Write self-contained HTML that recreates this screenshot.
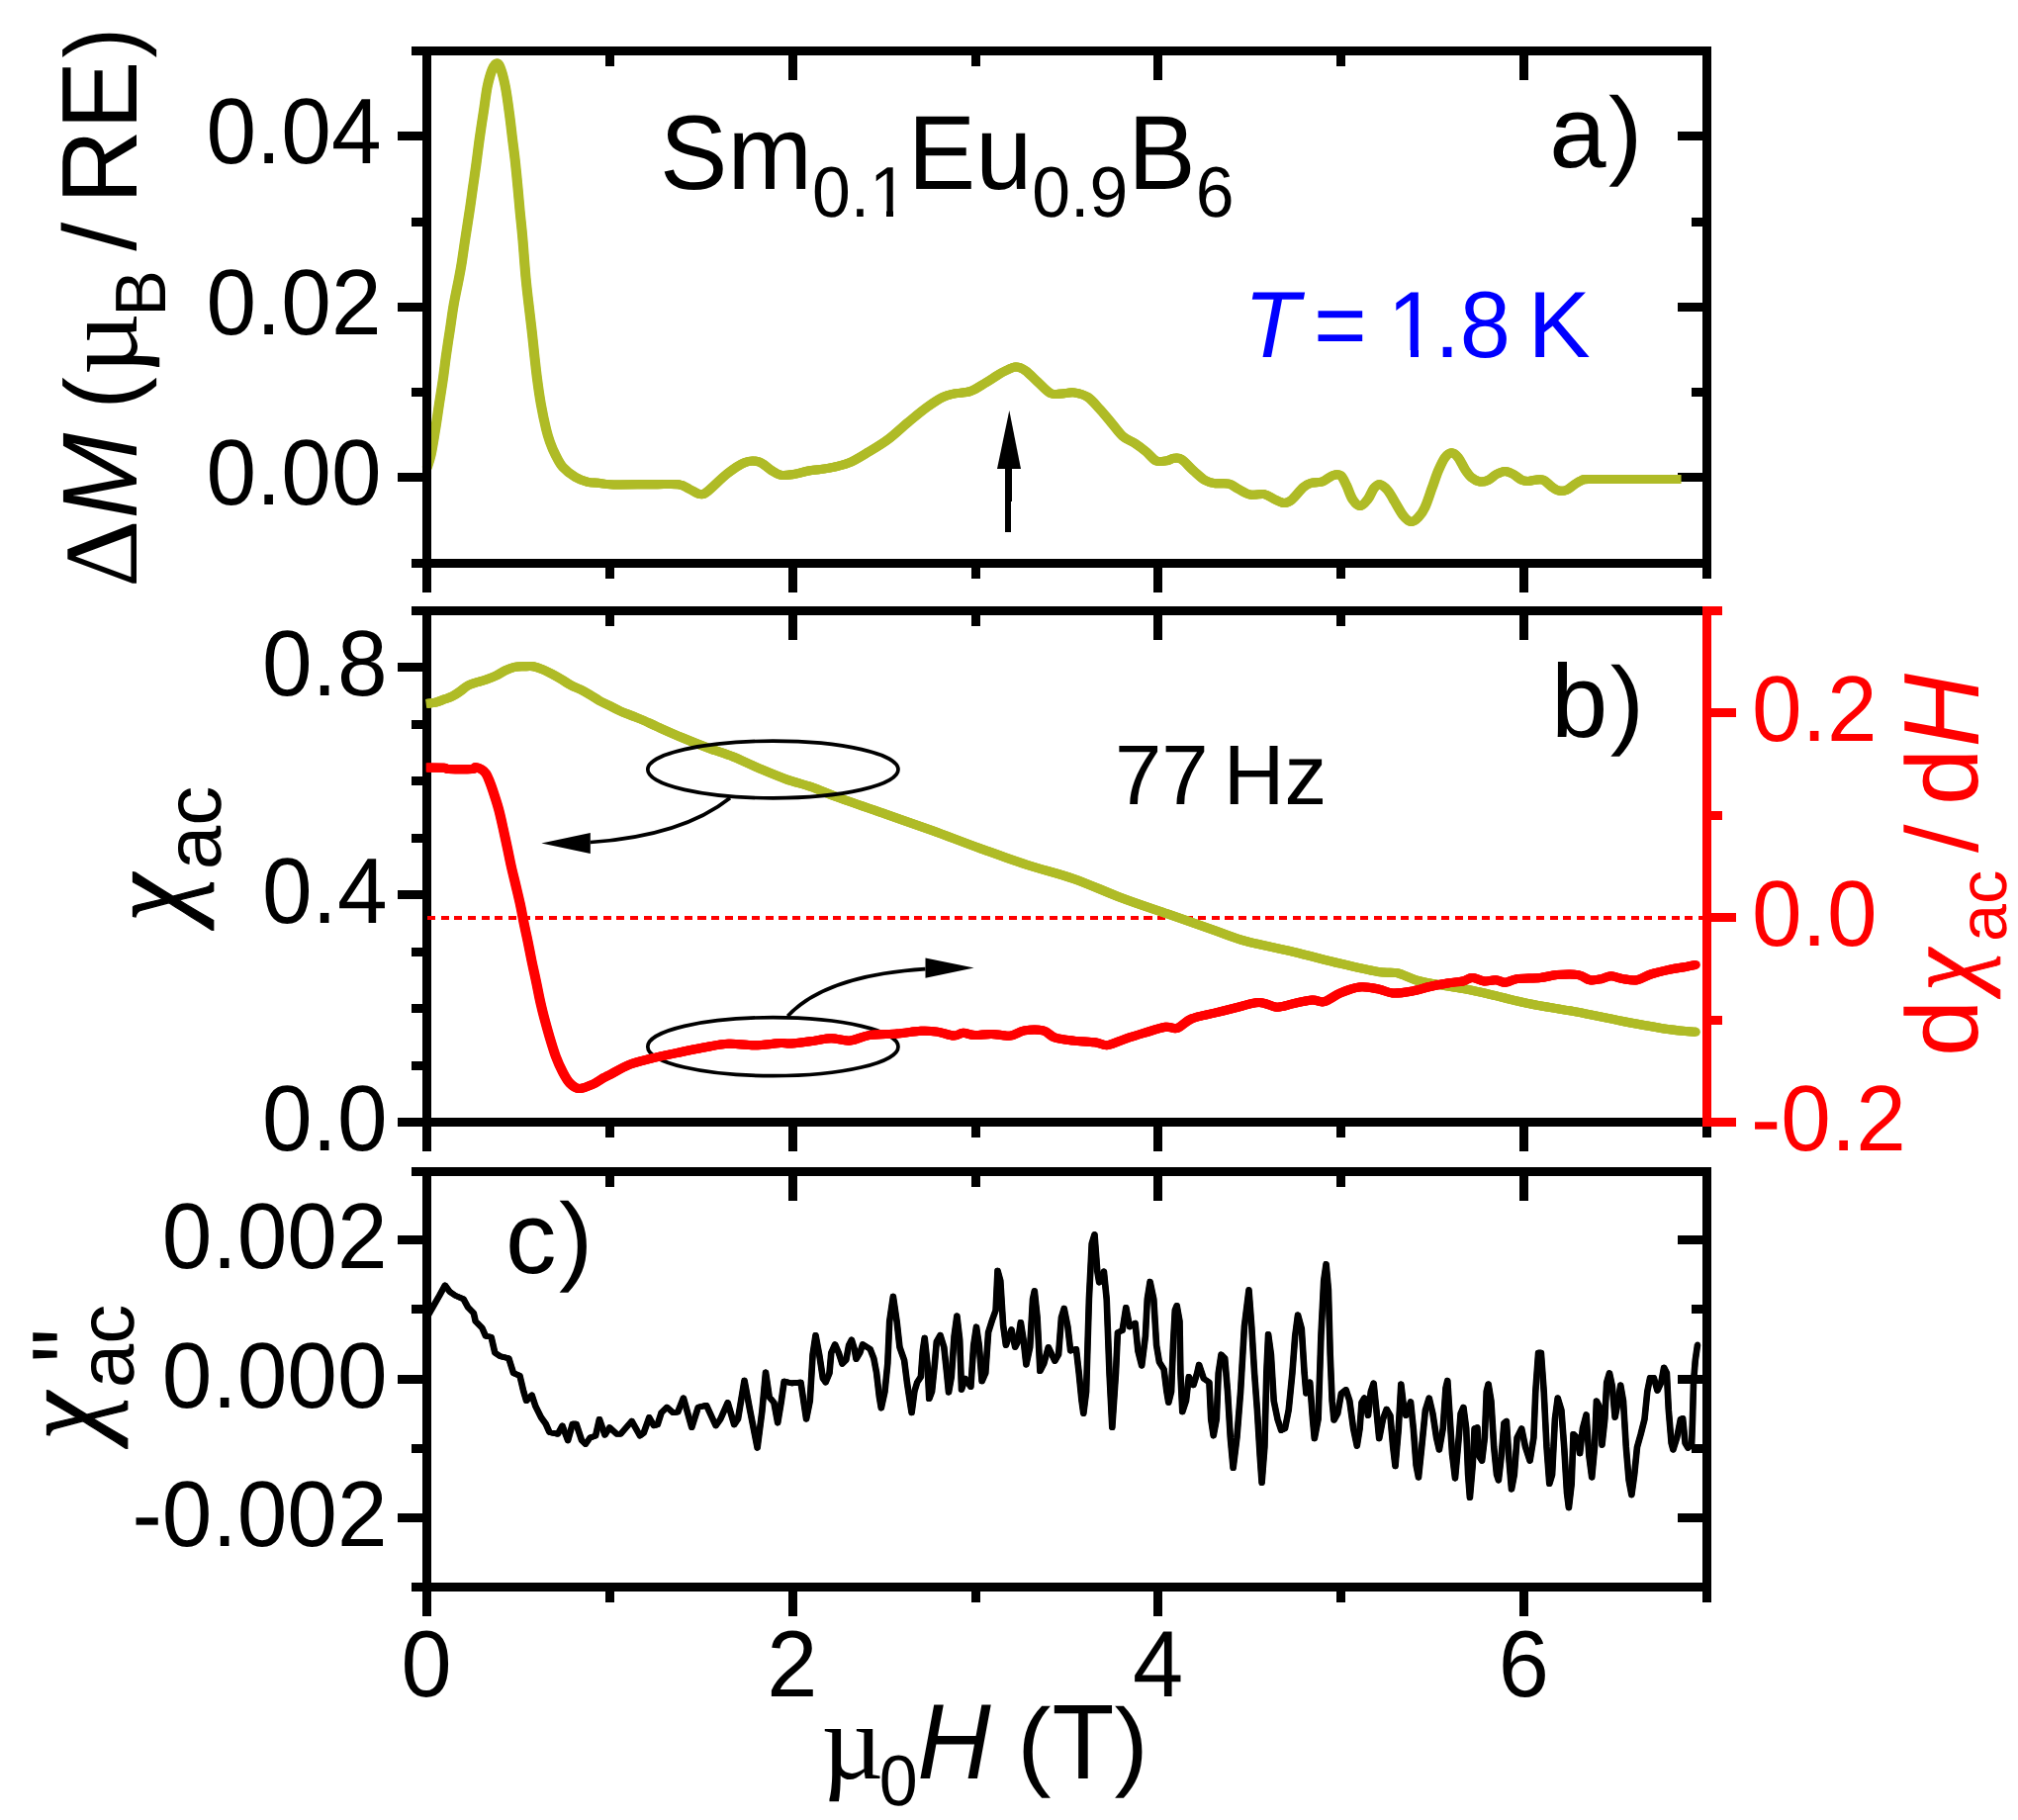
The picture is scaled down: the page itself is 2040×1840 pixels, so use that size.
<!DOCTYPE html>
<html><head><meta charset="utf-8"><title>Figure</title>
<style>html,body{margin:0;padding:0;background:#fff}svg{display:block}</style>
</head><body>
<svg width="2040" height="1840" viewBox="0 0 2040 1840" font-family="Liberation Sans, Arial, Helvetica, sans-serif" shape-rendering="crispEdges" text-rendering="geometricPrecision">
<rect width="2040" height="1840" fill="#fff"/>
<rect x="416" y="47" width="1314" height="9" fill="#000"/>
<rect x="416" y="565" width="1314" height="9" fill="#000"/>
<rect x="427" y="47" width="9" height="527" fill="#000"/>
<rect x="1721" y="47" width="9" height="527" fill="#000"/>
<rect x="427" y="574" width="9" height="25" fill="#000"/>
<rect x="611.857" y="56" width="9" height="11" fill="#000"/>
<rect x="611.857" y="574" width="9" height="11" fill="#000"/>
<rect x="796.714" y="56" width="9" height="25" fill="#000"/>
<rect x="796.714" y="574" width="9" height="25" fill="#000"/>
<rect x="981.571" y="56" width="9" height="11" fill="#000"/>
<rect x="981.571" y="574" width="9" height="11" fill="#000"/>
<rect x="1166.43" y="56" width="9" height="25" fill="#000"/>
<rect x="1166.43" y="574" width="9" height="25" fill="#000"/>
<rect x="1351.29" y="56" width="9" height="11" fill="#000"/>
<rect x="1351.29" y="574" width="9" height="11" fill="#000"/>
<rect x="1536.14" y="56" width="9" height="25" fill="#000"/>
<rect x="1536.14" y="574" width="9" height="25" fill="#000"/>
<rect x="1721" y="574" width="9" height="11" fill="#000"/>
<rect x="402" y="478" width="25" height="9" fill="#000"/>
<rect x="1696" y="478" width="25" height="9" fill="#000"/>
<rect x="402" y="306" width="25" height="9" fill="#000"/>
<rect x="1696" y="306" width="25" height="9" fill="#000"/>
<rect x="402" y="133" width="25" height="9" fill="#000"/>
<rect x="1696" y="133" width="25" height="9" fill="#000"/>
<rect x="416" y="392" width="11" height="9" fill="#000"/>
<rect x="1710" y="392" width="11" height="9" fill="#000"/>
<rect x="416" y="220" width="11" height="9" fill="#000"/>
<rect x="1710" y="220" width="11" height="9" fill="#000"/>
<g fill="none" stroke="#afbb26" stroke-width="9" stroke-linejoin="round" stroke-linecap="butt" shape-rendering="auto">
<path d="M431.5,473.5 C432.2,471.2 434.3,466.1 435.7,459.6 C437.1,453.1 438.7,442.7 440.1,434.3 C441.5,425.9 442.6,417.4 443.9,409.0 C445.2,400.6 446.6,392.1 447.8,383.7 C449.0,375.3 449.9,366.9 451.1,358.5 C452.3,350.1 453.6,341.6 454.9,333.2 C456.2,324.8 457.2,316.3 458.7,307.9 C460.2,299.5 462.3,289.8 463.7,282.6 C465.1,275.4 465.8,272.0 466.9,264.8 C468.0,257.6 469.3,248.0 470.6,239.6 C471.9,231.2 473.2,222.7 474.5,214.3 C475.8,205.9 476.9,197.4 478.1,189.0 C479.3,180.6 480.6,172.1 481.7,163.7 C482.8,155.3 483.8,146.9 485.0,138.5 C486.2,130.1 487.5,121.6 488.8,113.2 C490.1,104.8 491.2,95.0 492.6,87.9 C494.1,80.8 495.9,74.5 497.5,70.5 C499.1,66.5 501.0,64.0 502.5,64.0 C504.0,64.0 505.1,66.5 506.5,70.5 C507.9,74.5 509.5,80.8 510.9,87.9 C512.3,95.0 513.6,104.8 514.7,113.2 C515.9,121.6 516.8,130.1 517.8,138.5 C518.8,146.9 520.0,155.3 520.9,163.7 C521.8,172.1 522.6,180.6 523.4,189.0 C524.2,197.4 524.9,205.9 525.7,214.3 C526.5,222.7 527.5,231.2 528.2,239.6 C529.0,248.0 529.6,257.6 530.2,264.8 C530.8,272.0 531.0,275.4 531.7,282.6 C532.4,289.8 533.5,299.5 534.5,307.9 C535.5,316.3 536.5,324.8 537.5,333.2 C538.5,341.6 539.3,350.1 540.2,358.5 C541.1,366.9 542.0,375.3 543.1,383.7 C544.2,392.1 545.4,400.6 546.9,409.0 C548.4,417.4 550.7,428.0 552.2,434.3 C553.7,440.6 554.5,442.7 556.0,446.9 C557.5,451.1 559.2,455.4 561.4,459.6 C563.6,463.8 565.6,468.4 569.0,472.2 C572.4,476.0 577.5,479.8 581.7,482.3 C585.9,484.8 590.5,486.4 594.3,487.4 C598.1,488.4 600.2,487.9 604.6,488.3 C609.0,488.7 611.2,489.7 620.4,489.9 C629.6,490.1 649.1,489.7 660.0,489.7 C670.9,489.7 679.6,488.9 685.8,489.7 C692.0,490.5 693.4,492.9 697.0,494.5 C700.6,496.1 704.5,499.2 707.6,499.6 C710.7,500.0 710.9,500.1 715.5,496.6 C720.1,493.1 729.0,483.7 735.3,478.8 C741.6,473.9 747.9,469.5 753.2,467.5 C758.5,465.5 762.7,465.7 767.0,466.9 C771.3,468.1 775.3,472.6 778.9,474.8 C782.5,477.0 785.2,479.3 788.8,480.1 C792.4,480.9 795.7,480.4 800.7,479.7 C805.7,479.0 812.3,476.9 818.6,475.8 C824.9,474.7 831.8,474.5 838.4,473.2 C845.0,471.9 851.6,470.6 858.2,467.9 C864.8,465.2 871.4,460.9 878.0,456.9 C884.6,452.9 891.3,449.1 897.9,444.1 C904.5,439.2 911.1,432.6 917.7,427.2 C924.3,421.8 931.5,415.7 937.5,411.4 C943.5,407.1 948.8,403.6 953.4,401.4 C958.0,399.1 960.6,398.9 965.2,397.9 C969.8,396.9 975.8,397.4 981.1,395.5 C986.4,393.6 991.7,389.7 997.0,386.6 C1002.3,383.5 1007.8,379.3 1012.8,376.7 C1017.8,374.1 1022.7,371.4 1026.7,371.1 C1030.7,370.8 1033.0,372.3 1036.6,374.7 C1040.2,377.1 1044.3,381.8 1048.5,385.6 C1052.7,389.4 1057.6,395.4 1061.8,397.5 C1066.0,399.6 1069.7,398.0 1073.7,397.9 C1077.7,397.8 1081.3,396.3 1085.6,396.9 C1089.9,397.5 1095.2,398.7 1099.5,401.4 C1103.8,404.1 1107.4,409.0 1111.4,413.3 C1115.4,417.6 1119.3,422.6 1123.3,427.2 C1127.2,431.8 1131.1,437.6 1135.1,441.1 C1139.0,444.6 1143.0,445.4 1147.0,448.0 C1151.0,450.6 1155.3,453.9 1158.9,456.9 C1162.5,459.9 1165.5,464.4 1168.8,465.9 C1172.1,467.4 1175.8,466.3 1178.8,465.9 C1181.8,465.5 1184.1,463.5 1186.7,463.3 C1189.3,463.1 1191.3,462.4 1194.6,464.5 C1197.9,466.6 1202.5,472.3 1206.5,475.8 C1210.5,479.3 1214.8,483.6 1218.4,485.7 C1222.0,487.8 1224.3,488.1 1228.3,488.7 C1232.3,489.3 1238.2,488.1 1242.2,489.1 C1246.2,490.1 1248.5,492.8 1252.1,494.6 C1255.7,496.5 1259.7,499.4 1264.0,500.2 C1268.3,501.0 1273.9,498.9 1277.9,499.6 C1281.9,500.3 1284.5,503.0 1287.8,504.5 C1291.1,506.0 1294.7,508.3 1297.7,508.5 C1300.7,508.7 1302.3,508.1 1305.6,505.5 C1308.9,502.9 1314.2,495.5 1317.5,492.6 C1320.8,489.7 1322.1,489.3 1325.4,488.3 C1328.7,487.3 1333.7,488.0 1337.3,486.7 C1340.9,485.4 1344.2,481.7 1347.2,480.7 C1350.2,479.7 1352.9,479.0 1355.2,480.7 C1357.5,482.4 1359.1,486.6 1361.1,490.6 C1363.1,494.6 1364.8,501.0 1367.1,504.5 C1369.4,508.0 1372.4,511.5 1375.0,511.5 C1377.6,511.5 1380.6,507.5 1382.9,504.5 C1385.2,501.5 1386.9,496.1 1388.9,493.6 C1390.9,491.1 1392.5,489.4 1394.8,489.7 C1397.1,490.0 1400.0,492.5 1402.7,495.6 C1405.4,498.7 1408.1,504.2 1410.7,508.5 C1413.3,512.8 1416.0,518.2 1418.6,521.4 C1421.2,524.6 1424.0,527.2 1426.5,527.5 C1429.0,527.8 1431.4,525.6 1433.7,523.2 C1436.0,520.8 1438.2,517.9 1440.4,513.1 C1442.7,508.3 1445.0,500.8 1447.2,494.6 C1449.5,488.4 1451.7,481.3 1453.9,476.0 C1456.2,470.7 1458.5,465.6 1460.7,462.6 C1463.0,459.6 1465.2,457.8 1467.4,457.8 C1469.6,457.8 1471.8,459.8 1474.1,462.6 C1476.3,465.4 1478.7,471.0 1480.9,474.4 C1483.2,477.8 1485.1,480.7 1487.6,482.8 C1490.1,484.9 1493.2,486.6 1496.0,487.0 C1498.8,487.4 1501.7,486.6 1504.5,485.3 C1507.3,484.0 1510.1,480.9 1512.9,479.4 C1515.7,477.9 1518.5,476.4 1521.3,476.4 C1524.1,476.4 1526.9,477.9 1529.7,479.4 C1532.5,480.9 1535.7,484.1 1538.2,485.3 C1540.7,486.5 1542.7,486.5 1544.9,486.5 C1547.1,486.5 1549.1,485.5 1551.6,485.3 C1554.1,485.1 1557.3,484.2 1560.1,485.3 C1562.9,486.4 1566.0,490.2 1568.5,492.0 C1571.0,493.8 1572.7,495.3 1575.2,495.9 C1577.7,496.5 1580.9,496.5 1583.7,495.4 C1586.5,494.3 1589.6,491.1 1592.1,489.5 C1594.6,487.9 1596.5,486.6 1598.8,485.8 C1601.0,485.0 1597.1,484.7 1605.6,484.5 C1614.1,484.3 1634.4,484.5 1650.0,484.5 C1665.6,484.5 1690.8,484.5 1699.0,484.5"/>
<path transform="translate(-0.55,0)" d="M431.5,473.5 C432.2,471.2 434.3,466.1 435.7,459.6 C437.1,453.1 438.7,442.7 440.1,434.3 C441.5,425.9 442.6,417.4 443.9,409.0 C445.2,400.6 446.6,392.1 447.8,383.7 C449.0,375.3 449.9,366.9 451.1,358.5 C452.3,350.1 453.6,341.6 454.9,333.2 C456.2,324.8 457.2,316.3 458.7,307.9 C460.2,299.5 462.3,289.8 463.7,282.6 C465.1,275.4 465.8,272.0 466.9,264.8 C468.0,257.6 469.3,248.0 470.6,239.6 C471.9,231.2 473.2,222.7 474.5,214.3 C475.8,205.9 476.9,197.4 478.1,189.0 C479.3,180.6 480.6,172.1 481.7,163.7 C482.8,155.3 483.8,146.9 485.0,138.5 C486.2,130.1 487.5,121.6 488.8,113.2 C490.1,104.8 491.2,95.0 492.6,87.9 C494.1,80.8 495.9,74.5 497.5,70.5 C499.1,66.5 501.0,64.0 502.5,64.0 C504.0,64.0 505.1,66.5 506.5,70.5 C507.9,74.5 509.5,80.8 510.9,87.9 C512.3,95.0 513.6,104.8 514.7,113.2 C515.9,121.6 516.8,130.1 517.8,138.5 C518.8,146.9 520.0,155.3 520.9,163.7 C521.8,172.1 522.6,180.6 523.4,189.0 C524.2,197.4 524.9,205.9 525.7,214.3 C526.5,222.7 527.5,231.2 528.2,239.6 C529.0,248.0 529.6,257.6 530.2,264.8 C530.8,272.0 531.0,275.4 531.7,282.6 C532.4,289.8 533.5,299.5 534.5,307.9 C535.5,316.3 536.5,324.8 537.5,333.2 C538.5,341.6 539.3,350.1 540.2,358.5 C541.1,366.9 542.0,375.3 543.1,383.7 C544.2,392.1 545.4,400.6 546.9,409.0 C548.4,417.4 550.7,428.0 552.2,434.3 C553.7,440.6 554.5,442.7 556.0,446.9 C557.5,451.1 559.2,455.4 561.4,459.6 C563.6,463.8 565.6,468.4 569.0,472.2 C572.4,476.0 577.5,479.8 581.7,482.3 C585.9,484.8 590.5,486.4 594.3,487.4 C598.1,488.4 600.2,487.9 604.6,488.3 C609.0,488.7 611.2,489.7 620.4,489.9 C629.6,490.1 649.1,489.7 660.0,489.7 C670.9,489.7 679.6,488.9 685.8,489.7 C692.0,490.5 693.4,492.9 697.0,494.5 C700.6,496.1 704.5,499.2 707.6,499.6 C710.7,500.0 710.9,500.1 715.5,496.6 C720.1,493.1 729.0,483.7 735.3,478.8 C741.6,473.9 747.9,469.5 753.2,467.5 C758.5,465.5 762.7,465.7 767.0,466.9 C771.3,468.1 775.3,472.6 778.9,474.8 C782.5,477.0 785.2,479.3 788.8,480.1 C792.4,480.9 795.7,480.4 800.7,479.7 C805.7,479.0 812.3,476.9 818.6,475.8 C824.9,474.7 831.8,474.5 838.4,473.2 C845.0,471.9 851.6,470.6 858.2,467.9 C864.8,465.2 871.4,460.9 878.0,456.9 C884.6,452.9 891.3,449.1 897.9,444.1 C904.5,439.2 911.1,432.6 917.7,427.2 C924.3,421.8 931.5,415.7 937.5,411.4 C943.5,407.1 948.8,403.6 953.4,401.4 C958.0,399.1 960.6,398.9 965.2,397.9 C969.8,396.9 975.8,397.4 981.1,395.5 C986.4,393.6 991.7,389.7 997.0,386.6 C1002.3,383.5 1007.8,379.3 1012.8,376.7 C1017.8,374.1 1022.7,371.4 1026.7,371.1 C1030.7,370.8 1033.0,372.3 1036.6,374.7 C1040.2,377.1 1044.3,381.8 1048.5,385.6 C1052.7,389.4 1057.6,395.4 1061.8,397.5 C1066.0,399.6 1069.7,398.0 1073.7,397.9 C1077.7,397.8 1081.3,396.3 1085.6,396.9 C1089.9,397.5 1095.2,398.7 1099.5,401.4 C1103.8,404.1 1107.4,409.0 1111.4,413.3 C1115.4,417.6 1119.3,422.6 1123.3,427.2 C1127.2,431.8 1131.1,437.6 1135.1,441.1 C1139.0,444.6 1143.0,445.4 1147.0,448.0 C1151.0,450.6 1155.3,453.9 1158.9,456.9 C1162.5,459.9 1165.5,464.4 1168.8,465.9 C1172.1,467.4 1175.8,466.3 1178.8,465.9 C1181.8,465.5 1184.1,463.5 1186.7,463.3 C1189.3,463.1 1191.3,462.4 1194.6,464.5 C1197.9,466.6 1202.5,472.3 1206.5,475.8 C1210.5,479.3 1214.8,483.6 1218.4,485.7 C1222.0,487.8 1224.3,488.1 1228.3,488.7 C1232.3,489.3 1238.2,488.1 1242.2,489.1 C1246.2,490.1 1248.5,492.8 1252.1,494.6 C1255.7,496.5 1259.7,499.4 1264.0,500.2 C1268.3,501.0 1273.9,498.9 1277.9,499.6 C1281.9,500.3 1284.5,503.0 1287.8,504.5 C1291.1,506.0 1294.7,508.3 1297.7,508.5 C1300.7,508.7 1302.3,508.1 1305.6,505.5 C1308.9,502.9 1314.2,495.5 1317.5,492.6 C1320.8,489.7 1322.1,489.3 1325.4,488.3 C1328.7,487.3 1333.7,488.0 1337.3,486.7 C1340.9,485.4 1344.2,481.7 1347.2,480.7 C1350.2,479.7 1352.9,479.0 1355.2,480.7 C1357.5,482.4 1359.1,486.6 1361.1,490.6 C1363.1,494.6 1364.8,501.0 1367.1,504.5 C1369.4,508.0 1372.4,511.5 1375.0,511.5 C1377.6,511.5 1380.6,507.5 1382.9,504.5 C1385.2,501.5 1386.9,496.1 1388.9,493.6 C1390.9,491.1 1392.5,489.4 1394.8,489.7 C1397.1,490.0 1400.0,492.5 1402.7,495.6 C1405.4,498.7 1408.1,504.2 1410.7,508.5 C1413.3,512.8 1416.0,518.2 1418.6,521.4 C1421.2,524.6 1424.0,527.2 1426.5,527.5 C1429.0,527.8 1431.4,525.6 1433.7,523.2 C1436.0,520.8 1438.2,517.9 1440.4,513.1 C1442.7,508.3 1445.0,500.8 1447.2,494.6 C1449.5,488.4 1451.7,481.3 1453.9,476.0 C1456.2,470.7 1458.5,465.6 1460.7,462.6 C1463.0,459.6 1465.2,457.8 1467.4,457.8 C1469.6,457.8 1471.8,459.8 1474.1,462.6 C1476.3,465.4 1478.7,471.0 1480.9,474.4 C1483.2,477.8 1485.1,480.7 1487.6,482.8 C1490.1,484.9 1493.2,486.6 1496.0,487.0 C1498.8,487.4 1501.7,486.6 1504.5,485.3 C1507.3,484.0 1510.1,480.9 1512.9,479.4 C1515.7,477.9 1518.5,476.4 1521.3,476.4 C1524.1,476.4 1526.9,477.9 1529.7,479.4 C1532.5,480.9 1535.7,484.1 1538.2,485.3 C1540.7,486.5 1542.7,486.5 1544.9,486.5 C1547.1,486.5 1549.1,485.5 1551.6,485.3 C1554.1,485.1 1557.3,484.2 1560.1,485.3 C1562.9,486.4 1566.0,490.2 1568.5,492.0 C1571.0,493.8 1572.7,495.3 1575.2,495.9 C1577.7,496.5 1580.9,496.5 1583.7,495.4 C1586.5,494.3 1589.6,491.1 1592.1,489.5 C1594.6,487.9 1596.5,486.6 1598.8,485.8 C1601.0,485.0 1597.1,484.7 1605.6,484.5 C1614.1,484.3 1634.4,484.5 1650.0,484.5 C1665.6,484.5 1690.8,484.5 1699.0,484.5"/>
<path transform="translate(0.55,0)" d="M431.5,473.5 C432.2,471.2 434.3,466.1 435.7,459.6 C437.1,453.1 438.7,442.7 440.1,434.3 C441.5,425.9 442.6,417.4 443.9,409.0 C445.2,400.6 446.6,392.1 447.8,383.7 C449.0,375.3 449.9,366.9 451.1,358.5 C452.3,350.1 453.6,341.6 454.9,333.2 C456.2,324.8 457.2,316.3 458.7,307.9 C460.2,299.5 462.3,289.8 463.7,282.6 C465.1,275.4 465.8,272.0 466.9,264.8 C468.0,257.6 469.3,248.0 470.6,239.6 C471.9,231.2 473.2,222.7 474.5,214.3 C475.8,205.9 476.9,197.4 478.1,189.0 C479.3,180.6 480.6,172.1 481.7,163.7 C482.8,155.3 483.8,146.9 485.0,138.5 C486.2,130.1 487.5,121.6 488.8,113.2 C490.1,104.8 491.2,95.0 492.6,87.9 C494.1,80.8 495.9,74.5 497.5,70.5 C499.1,66.5 501.0,64.0 502.5,64.0 C504.0,64.0 505.1,66.5 506.5,70.5 C507.9,74.5 509.5,80.8 510.9,87.9 C512.3,95.0 513.6,104.8 514.7,113.2 C515.9,121.6 516.8,130.1 517.8,138.5 C518.8,146.9 520.0,155.3 520.9,163.7 C521.8,172.1 522.6,180.6 523.4,189.0 C524.2,197.4 524.9,205.9 525.7,214.3 C526.5,222.7 527.5,231.2 528.2,239.6 C529.0,248.0 529.6,257.6 530.2,264.8 C530.8,272.0 531.0,275.4 531.7,282.6 C532.4,289.8 533.5,299.5 534.5,307.9 C535.5,316.3 536.5,324.8 537.5,333.2 C538.5,341.6 539.3,350.1 540.2,358.5 C541.1,366.9 542.0,375.3 543.1,383.7 C544.2,392.1 545.4,400.6 546.9,409.0 C548.4,417.4 550.7,428.0 552.2,434.3 C553.7,440.6 554.5,442.7 556.0,446.9 C557.5,451.1 559.2,455.4 561.4,459.6 C563.6,463.8 565.6,468.4 569.0,472.2 C572.4,476.0 577.5,479.8 581.7,482.3 C585.9,484.8 590.5,486.4 594.3,487.4 C598.1,488.4 600.2,487.9 604.6,488.3 C609.0,488.7 611.2,489.7 620.4,489.9 C629.6,490.1 649.1,489.7 660.0,489.7 C670.9,489.7 679.6,488.9 685.8,489.7 C692.0,490.5 693.4,492.9 697.0,494.5 C700.6,496.1 704.5,499.2 707.6,499.6 C710.7,500.0 710.9,500.1 715.5,496.6 C720.1,493.1 729.0,483.7 735.3,478.8 C741.6,473.9 747.9,469.5 753.2,467.5 C758.5,465.5 762.7,465.7 767.0,466.9 C771.3,468.1 775.3,472.6 778.9,474.8 C782.5,477.0 785.2,479.3 788.8,480.1 C792.4,480.9 795.7,480.4 800.7,479.7 C805.7,479.0 812.3,476.9 818.6,475.8 C824.9,474.7 831.8,474.5 838.4,473.2 C845.0,471.9 851.6,470.6 858.2,467.9 C864.8,465.2 871.4,460.9 878.0,456.9 C884.6,452.9 891.3,449.1 897.9,444.1 C904.5,439.2 911.1,432.6 917.7,427.2 C924.3,421.8 931.5,415.7 937.5,411.4 C943.5,407.1 948.8,403.6 953.4,401.4 C958.0,399.1 960.6,398.9 965.2,397.9 C969.8,396.9 975.8,397.4 981.1,395.5 C986.4,393.6 991.7,389.7 997.0,386.6 C1002.3,383.5 1007.8,379.3 1012.8,376.7 C1017.8,374.1 1022.7,371.4 1026.7,371.1 C1030.7,370.8 1033.0,372.3 1036.6,374.7 C1040.2,377.1 1044.3,381.8 1048.5,385.6 C1052.7,389.4 1057.6,395.4 1061.8,397.5 C1066.0,399.6 1069.7,398.0 1073.7,397.9 C1077.7,397.8 1081.3,396.3 1085.6,396.9 C1089.9,397.5 1095.2,398.7 1099.5,401.4 C1103.8,404.1 1107.4,409.0 1111.4,413.3 C1115.4,417.6 1119.3,422.6 1123.3,427.2 C1127.2,431.8 1131.1,437.6 1135.1,441.1 C1139.0,444.6 1143.0,445.4 1147.0,448.0 C1151.0,450.6 1155.3,453.9 1158.9,456.9 C1162.5,459.9 1165.5,464.4 1168.8,465.9 C1172.1,467.4 1175.8,466.3 1178.8,465.9 C1181.8,465.5 1184.1,463.5 1186.7,463.3 C1189.3,463.1 1191.3,462.4 1194.6,464.5 C1197.9,466.6 1202.5,472.3 1206.5,475.8 C1210.5,479.3 1214.8,483.6 1218.4,485.7 C1222.0,487.8 1224.3,488.1 1228.3,488.7 C1232.3,489.3 1238.2,488.1 1242.2,489.1 C1246.2,490.1 1248.5,492.8 1252.1,494.6 C1255.7,496.5 1259.7,499.4 1264.0,500.2 C1268.3,501.0 1273.9,498.9 1277.9,499.6 C1281.9,500.3 1284.5,503.0 1287.8,504.5 C1291.1,506.0 1294.7,508.3 1297.7,508.5 C1300.7,508.7 1302.3,508.1 1305.6,505.5 C1308.9,502.9 1314.2,495.5 1317.5,492.6 C1320.8,489.7 1322.1,489.3 1325.4,488.3 C1328.7,487.3 1333.7,488.0 1337.3,486.7 C1340.9,485.4 1344.2,481.7 1347.2,480.7 C1350.2,479.7 1352.9,479.0 1355.2,480.7 C1357.5,482.4 1359.1,486.6 1361.1,490.6 C1363.1,494.6 1364.8,501.0 1367.1,504.5 C1369.4,508.0 1372.4,511.5 1375.0,511.5 C1377.6,511.5 1380.6,507.5 1382.9,504.5 C1385.2,501.5 1386.9,496.1 1388.9,493.6 C1390.9,491.1 1392.5,489.4 1394.8,489.7 C1397.1,490.0 1400.0,492.5 1402.7,495.6 C1405.4,498.7 1408.1,504.2 1410.7,508.5 C1413.3,512.8 1416.0,518.2 1418.6,521.4 C1421.2,524.6 1424.0,527.2 1426.5,527.5 C1429.0,527.8 1431.4,525.6 1433.7,523.2 C1436.0,520.8 1438.2,517.9 1440.4,513.1 C1442.7,508.3 1445.0,500.8 1447.2,494.6 C1449.5,488.4 1451.7,481.3 1453.9,476.0 C1456.2,470.7 1458.5,465.6 1460.7,462.6 C1463.0,459.6 1465.2,457.8 1467.4,457.8 C1469.6,457.8 1471.8,459.8 1474.1,462.6 C1476.3,465.4 1478.7,471.0 1480.9,474.4 C1483.2,477.8 1485.1,480.7 1487.6,482.8 C1490.1,484.9 1493.2,486.6 1496.0,487.0 C1498.8,487.4 1501.7,486.6 1504.5,485.3 C1507.3,484.0 1510.1,480.9 1512.9,479.4 C1515.7,477.9 1518.5,476.4 1521.3,476.4 C1524.1,476.4 1526.9,477.9 1529.7,479.4 C1532.5,480.9 1535.7,484.1 1538.2,485.3 C1540.7,486.5 1542.7,486.5 1544.9,486.5 C1547.1,486.5 1549.1,485.5 1551.6,485.3 C1554.1,485.1 1557.3,484.2 1560.1,485.3 C1562.9,486.4 1566.0,490.2 1568.5,492.0 C1571.0,493.8 1572.7,495.3 1575.2,495.9 C1577.7,496.5 1580.9,496.5 1583.7,495.4 C1586.5,494.3 1589.6,491.1 1592.1,489.5 C1594.6,487.9 1596.5,486.6 1598.8,485.8 C1601.0,485.0 1597.1,484.7 1605.6,484.5 C1614.1,484.3 1634.4,484.5 1650.0,484.5 C1665.6,484.5 1690.8,484.5 1699.0,484.5"/>
</g>
<rect x="427" y="47" width="9" height="527" fill="#000"/>
<text transform="translate(385.5,510.1) scale(1,1.035)" font-size="91" text-anchor="end">0.00</text>
<text transform="translate(385.5,337.6) scale(1,1.035)" font-size="91" text-anchor="end">0.02</text>
<text transform="translate(385.5,165.1) scale(1,1.035)" font-size="91" text-anchor="end">0.04</text>
<line x1="1019" y1="538" x2="1019.6" y2="470" stroke="#000" stroke-width="6.5"/>
<polygon points="1008,474 1032,474 1020.3,415" fill="#000" shape-rendering="auto"/>
<text transform="translate(667,191) scale(0.996,1.035)" font-size="103">Sm<tspan font-size="70" dy="27">0.1</tspan><tspan dy="-27">Eu</tspan><tspan font-size="70" dy="27">0.9</tspan><tspan dy="-27">B</tspan><tspan font-size="70" dy="27">6</tspan></text>
<text transform="translate(1257.5,361) scale(1,1.035)" font-size="92" fill="#0000ff" font-style="italic">T</text>
<text transform="translate(1328,361) scale(1,1.035)" font-size="92" fill="#0000ff">=</text>
<text transform="translate(1402.5,361) scale(1,1.035)" font-size="92" fill="#0000ff">1</text>
<text transform="translate(1450.2,361) scale(1,1.035)" font-size="92" fill="#0000ff">.8</text>
<rect x="1408.94" y="353.6" width="16.698" height="8.4" fill="#fff"/>
<rect x="1433.76" y="353.6" width="16.56" height="8.4" fill="#fff"/>
<text transform="translate(1544.5,361) scale(1.03,1.035)" font-size="92" fill="#0000ff">K</text>
<rect x="883.5" y="213.2" width="12.1" height="6.8" fill="#fff"/>
<rect x="902.7" y="213.2" width="12.5" height="6.8" fill="#fff"/>
<text transform="translate(1566.3,169.4) scale(1,1)" font-size="103">a</text>
<text transform="translate(1626,168.4) scale(1,0.97)" font-size="103">)</text>
<rect x="416" y="613" width="1314" height="9" fill="#000"/>
<rect x="416" y="1130" width="1314" height="9" fill="#000"/>
<rect x="427" y="613" width="9" height="526" fill="#000"/>
<rect x="1721" y="613" width="9" height="526" fill="#000"/>
<rect x="427" y="1139" width="9" height="25" fill="#000"/>
<rect x="611.857" y="622" width="9" height="11" fill="#000"/>
<rect x="611.857" y="1139" width="9" height="11" fill="#000"/>
<rect x="796.714" y="622" width="9" height="25" fill="#000"/>
<rect x="796.714" y="1139" width="9" height="25" fill="#000"/>
<rect x="981.571" y="622" width="9" height="11" fill="#000"/>
<rect x="981.571" y="1139" width="9" height="11" fill="#000"/>
<rect x="1166.43" y="622" width="9" height="25" fill="#000"/>
<rect x="1166.43" y="1139" width="9" height="25" fill="#000"/>
<rect x="1351.29" y="622" width="9" height="11" fill="#000"/>
<rect x="1351.29" y="1139" width="9" height="11" fill="#000"/>
<rect x="1536.14" y="622" width="9" height="25" fill="#000"/>
<rect x="1536.14" y="1139" width="9" height="25" fill="#000"/>
<rect x="1721" y="1139" width="9" height="11" fill="#000"/>
<rect x="402" y="1130" width="25" height="9" fill="#000"/>
<rect x="402" y="900" width="25" height="9" fill="#000"/>
<rect x="402" y="670" width="25" height="9" fill="#000"/>
<rect x="416" y="1072.5" width="11" height="9" fill="#000"/>
<rect x="416" y="1015" width="11" height="9" fill="#000"/>
<rect x="416" y="957.5" width="11" height="9" fill="#000"/>
<rect x="416" y="842.5" width="11" height="9" fill="#000"/>
<rect x="416" y="785" width="11" height="9" fill="#000"/>
<rect x="416" y="727.5" width="11" height="9" fill="#000"/>
<text transform="translate(391.5,1162.5) scale(1,1.035)" font-size="91" text-anchor="end">0.0</text>
<text transform="translate(391.5,932.5) scale(1,1.035)" font-size="91" text-anchor="end">0.4</text>
<text transform="translate(391.5,702.5) scale(1,1.035)" font-size="91" text-anchor="end">0.8</text>
<line x1="431.9" y1="928" x2="1721" y2="928" stroke="#ff0000" stroke-width="4.3" stroke-dasharray="8.2 5.47"/>
<g fill="none" stroke="#afbb26" stroke-width="9" stroke-linejoin="round" stroke-linecap="butt" shape-rendering="auto">
<path d="M431.2,711.4 C432.8,711.2 437.6,710.8 440.5,710.1 C443.4,709.4 446.0,708.1 448.8,707.1 C451.6,706.1 454.3,705.5 457.1,704.1 C459.9,702.7 462.8,700.6 465.4,698.8 C468.0,697.0 469.8,694.9 472.6,693.4 C475.4,691.9 478.9,690.8 482.1,689.8 C485.3,688.8 488.4,688.2 491.6,687.1 C494.8,686.0 497.9,684.8 501.1,683.3 C504.3,681.8 507.4,679.4 510.6,677.9 C513.8,676.4 516.9,675.1 520.1,674.4 C523.3,673.7 526.5,673.9 529.7,673.8 C532.9,673.7 536.0,673.3 539.2,673.8 C542.4,674.3 545.5,675.5 548.7,676.8 C551.9,678.1 555.0,679.8 558.2,681.5 C561.4,683.2 564.5,685.0 567.7,686.9 C570.9,688.8 574.0,691.1 577.2,692.8 C580.4,694.5 583.5,695.4 586.7,697.0 C589.9,698.6 593.1,700.4 596.3,702.3 C599.5,704.2 602.6,706.5 605.8,708.3 C609.0,710.1 611.7,711.2 615.3,713.0 C618.9,714.8 623.2,717.2 627.2,719.0 C631.2,720.8 635.1,722.1 639.1,723.7 C643.1,725.3 646.7,726.6 651.0,728.5 C655.3,730.4 658.7,732.2 665.0,735.0 C671.3,737.8 680.6,742.0 689.0,745.5 C697.4,749.0 706.6,752.7 715.4,756.0 C724.2,759.3 732.9,761.8 741.7,765.3 C750.5,768.8 759.3,773.4 768.1,777.1 C776.9,780.8 785.9,784.6 794.5,787.7 C803.1,790.8 811.1,792.5 820.0,795.6 C828.9,798.7 835.1,801.8 847.6,806.4 C860.1,811.0 879.2,817.5 895.1,823.0 C911.0,828.5 926.8,834.0 942.7,839.7 C958.6,845.5 974.4,851.8 990.3,857.5 C1006.2,863.2 1022.1,869.1 1037.9,874.2 C1053.8,879.4 1069.6,882.9 1085.4,888.4 C1101.2,893.9 1117.1,901.5 1133.0,907.5 C1148.9,913.5 1164.7,918.6 1180.6,924.1 C1196.5,929.6 1215.0,936.2 1228.2,940.8 C1241.4,945.4 1246.8,948.0 1260.0,951.6 C1273.2,955.2 1291.8,958.5 1307.6,962.3 C1323.4,966.1 1340.8,970.8 1355.1,974.2 C1369.4,977.6 1383.7,980.9 1393.2,982.5 C1402.7,984.1 1405.9,982.3 1412.2,983.7 C1418.5,985.1 1424.2,988.8 1431.3,990.8 C1438.4,992.8 1446.4,994.0 1455.1,995.6 C1463.8,997.2 1474.9,998.6 1483.6,1000.3 C1492.3,1002.0 1497.1,1003.2 1507.4,1005.6 C1517.7,1008.0 1531.1,1011.7 1545.4,1014.6 C1559.7,1017.5 1577.1,1019.9 1593.0,1022.9 C1608.9,1025.9 1624.7,1029.5 1640.6,1032.5 C1656.5,1035.5 1675.9,1039.0 1688.2,1040.8 C1700.5,1042.6 1710.0,1042.8 1714.3,1043.2"/>
<path transform="translate(-0.55,0)" d="M431.2,711.4 C432.8,711.2 437.6,710.8 440.5,710.1 C443.4,709.4 446.0,708.1 448.8,707.1 C451.6,706.1 454.3,705.5 457.1,704.1 C459.9,702.7 462.8,700.6 465.4,698.8 C468.0,697.0 469.8,694.9 472.6,693.4 C475.4,691.9 478.9,690.8 482.1,689.8 C485.3,688.8 488.4,688.2 491.6,687.1 C494.8,686.0 497.9,684.8 501.1,683.3 C504.3,681.8 507.4,679.4 510.6,677.9 C513.8,676.4 516.9,675.1 520.1,674.4 C523.3,673.7 526.5,673.9 529.7,673.8 C532.9,673.7 536.0,673.3 539.2,673.8 C542.4,674.3 545.5,675.5 548.7,676.8 C551.9,678.1 555.0,679.8 558.2,681.5 C561.4,683.2 564.5,685.0 567.7,686.9 C570.9,688.8 574.0,691.1 577.2,692.8 C580.4,694.5 583.5,695.4 586.7,697.0 C589.9,698.6 593.1,700.4 596.3,702.3 C599.5,704.2 602.6,706.5 605.8,708.3 C609.0,710.1 611.7,711.2 615.3,713.0 C618.9,714.8 623.2,717.2 627.2,719.0 C631.2,720.8 635.1,722.1 639.1,723.7 C643.1,725.3 646.7,726.6 651.0,728.5 C655.3,730.4 658.7,732.2 665.0,735.0 C671.3,737.8 680.6,742.0 689.0,745.5 C697.4,749.0 706.6,752.7 715.4,756.0 C724.2,759.3 732.9,761.8 741.7,765.3 C750.5,768.8 759.3,773.4 768.1,777.1 C776.9,780.8 785.9,784.6 794.5,787.7 C803.1,790.8 811.1,792.5 820.0,795.6 C828.9,798.7 835.1,801.8 847.6,806.4 C860.1,811.0 879.2,817.5 895.1,823.0 C911.0,828.5 926.8,834.0 942.7,839.7 C958.6,845.5 974.4,851.8 990.3,857.5 C1006.2,863.2 1022.1,869.1 1037.9,874.2 C1053.8,879.4 1069.6,882.9 1085.4,888.4 C1101.2,893.9 1117.1,901.5 1133.0,907.5 C1148.9,913.5 1164.7,918.6 1180.6,924.1 C1196.5,929.6 1215.0,936.2 1228.2,940.8 C1241.4,945.4 1246.8,948.0 1260.0,951.6 C1273.2,955.2 1291.8,958.5 1307.6,962.3 C1323.4,966.1 1340.8,970.8 1355.1,974.2 C1369.4,977.6 1383.7,980.9 1393.2,982.5 C1402.7,984.1 1405.9,982.3 1412.2,983.7 C1418.5,985.1 1424.2,988.8 1431.3,990.8 C1438.4,992.8 1446.4,994.0 1455.1,995.6 C1463.8,997.2 1474.9,998.6 1483.6,1000.3 C1492.3,1002.0 1497.1,1003.2 1507.4,1005.6 C1517.7,1008.0 1531.1,1011.7 1545.4,1014.6 C1559.7,1017.5 1577.1,1019.9 1593.0,1022.9 C1608.9,1025.9 1624.7,1029.5 1640.6,1032.5 C1656.5,1035.5 1675.9,1039.0 1688.2,1040.8 C1700.5,1042.6 1710.0,1042.8 1714.3,1043.2"/>
<path transform="translate(0.55,0)" d="M431.2,711.4 C432.8,711.2 437.6,710.8 440.5,710.1 C443.4,709.4 446.0,708.1 448.8,707.1 C451.6,706.1 454.3,705.5 457.1,704.1 C459.9,702.7 462.8,700.6 465.4,698.8 C468.0,697.0 469.8,694.9 472.6,693.4 C475.4,691.9 478.9,690.8 482.1,689.8 C485.3,688.8 488.4,688.2 491.6,687.1 C494.8,686.0 497.9,684.8 501.1,683.3 C504.3,681.8 507.4,679.4 510.6,677.9 C513.8,676.4 516.9,675.1 520.1,674.4 C523.3,673.7 526.5,673.9 529.7,673.8 C532.9,673.7 536.0,673.3 539.2,673.8 C542.4,674.3 545.5,675.5 548.7,676.8 C551.9,678.1 555.0,679.8 558.2,681.5 C561.4,683.2 564.5,685.0 567.7,686.9 C570.9,688.8 574.0,691.1 577.2,692.8 C580.4,694.5 583.5,695.4 586.7,697.0 C589.9,698.6 593.1,700.4 596.3,702.3 C599.5,704.2 602.6,706.5 605.8,708.3 C609.0,710.1 611.7,711.2 615.3,713.0 C618.9,714.8 623.2,717.2 627.2,719.0 C631.2,720.8 635.1,722.1 639.1,723.7 C643.1,725.3 646.7,726.6 651.0,728.5 C655.3,730.4 658.7,732.2 665.0,735.0 C671.3,737.8 680.6,742.0 689.0,745.5 C697.4,749.0 706.6,752.7 715.4,756.0 C724.2,759.3 732.9,761.8 741.7,765.3 C750.5,768.8 759.3,773.4 768.1,777.1 C776.9,780.8 785.9,784.6 794.5,787.7 C803.1,790.8 811.1,792.5 820.0,795.6 C828.9,798.7 835.1,801.8 847.6,806.4 C860.1,811.0 879.2,817.5 895.1,823.0 C911.0,828.5 926.8,834.0 942.7,839.7 C958.6,845.5 974.4,851.8 990.3,857.5 C1006.2,863.2 1022.1,869.1 1037.9,874.2 C1053.8,879.4 1069.6,882.9 1085.4,888.4 C1101.2,893.9 1117.1,901.5 1133.0,907.5 C1148.9,913.5 1164.7,918.6 1180.6,924.1 C1196.5,929.6 1215.0,936.2 1228.2,940.8 C1241.4,945.4 1246.8,948.0 1260.0,951.6 C1273.2,955.2 1291.8,958.5 1307.6,962.3 C1323.4,966.1 1340.8,970.8 1355.1,974.2 C1369.4,977.6 1383.7,980.9 1393.2,982.5 C1402.7,984.1 1405.9,982.3 1412.2,983.7 C1418.5,985.1 1424.2,988.8 1431.3,990.8 C1438.4,992.8 1446.4,994.0 1455.1,995.6 C1463.8,997.2 1474.9,998.6 1483.6,1000.3 C1492.3,1002.0 1497.1,1003.2 1507.4,1005.6 C1517.7,1008.0 1531.1,1011.7 1545.4,1014.6 C1559.7,1017.5 1577.1,1019.9 1593.0,1022.9 C1608.9,1025.9 1624.7,1029.5 1640.6,1032.5 C1656.5,1035.5 1675.9,1039.0 1688.2,1040.8 C1700.5,1042.6 1710.0,1042.8 1714.3,1043.2"/>
</g>
<circle cx="1714.3" cy="1043.2" r="4.5" fill="#afbb26" shape-rendering="auto"/>
<rect x="1721" y="613" width="9" height="526" fill="#ff0000"/>
<rect x="1730" y="716.4" width="25" height="9" fill="#ff0000"/>
<rect x="1730" y="923.2" width="25" height="9" fill="#ff0000"/>
<rect x="1730" y="1130" width="25" height="9" fill="#ff0000"/>
<rect x="1730" y="1026.6" width="11" height="9" fill="#ff0000"/>
<rect x="1730" y="819.8" width="11" height="9" fill="#ff0000"/>
<rect x="1730" y="613" width="11" height="9" fill="#ff0000"/>
<text transform="translate(1771,748.9) scale(1,1.035)" font-size="91" fill="#ff0000">0.2</text>
<text transform="translate(1771,955.7) scale(1,1.035)" font-size="91" fill="#ff0000">0.0</text>
<text transform="translate(1770,1162.5) scale(1,1.035)" font-size="91" fill="#ff0000">-0.2</text>
<rect x="1721" y="1139" width="9" height="11" fill="#000"/>
<g fill="none" stroke="#000" stroke-width="3.7" shape-rendering="auto">
<ellipse cx="781.4" cy="778" rx="126.6" ry="28.8"/>
<ellipse cx="781.4" cy="1058.2" rx="126.6" ry="29.5"/>
<path d="M738,806.7 Q690,845 596.8,851.5"/>
<path d="M796.3,1027.2 Q835,986 935.5,979.7"/>
</g>
<polygon points="547.3,852.6 596.8,842 596.8,863" fill="#000" shape-rendering="auto"/>
<polygon points="984.6,978.4 935.5,968.5 935.5,988.8" fill="#000" shape-rendering="auto"/>
<g fill="none" stroke="#ff0000" stroke-width="9" stroke-linejoin="round" stroke-linecap="butt" shape-rendering="auto">
<path d="M431.2,776.1 C434.1,776.1 445.1,776.1 448.8,776.3 C452.5,776.5 448.8,777.3 453.5,777.5 C458.2,777.7 472.7,777.8 477.3,777.5 C481.9,777.2 479.3,775.7 480.9,775.8 C482.5,775.9 485.1,776.9 486.8,777.9 C488.5,778.9 489.9,780.1 491.2,782.0 C492.5,783.9 493.5,786.5 494.6,789.2 C495.7,791.9 496.2,793.2 497.8,798.0 C499.4,802.8 502.2,811.2 504.0,817.7 C505.8,824.2 507.1,830.5 508.5,836.9 C509.9,843.3 511.3,849.8 512.7,856.2 C514.1,862.6 515.3,869.0 516.7,875.4 C518.1,881.8 519.8,888.2 521.3,894.6 C522.8,901.0 524.4,907.4 525.8,913.8 C527.2,920.2 528.3,926.7 529.6,933.1 C530.9,939.5 532.4,945.9 533.7,952.3 C535.0,958.7 536.2,965.1 537.5,971.5 C538.8,977.9 540.4,984.4 541.7,990.8 C543.1,997.2 544.2,1003.6 545.6,1010.0 C547.0,1016.4 548.5,1022.8 550.2,1029.2 C551.9,1035.6 553.7,1042.1 555.6,1048.5 C557.5,1054.9 559.6,1061.9 561.7,1067.7 C563.9,1073.5 566.1,1078.5 568.5,1083.1 C570.9,1087.6 573.2,1092.1 576.0,1095.0 C578.8,1097.9 581.6,1100.3 585.4,1100.6 C589.2,1100.8 594.7,1098.3 598.8,1096.5 C602.9,1094.7 607.3,1091.3 610.0,1089.8 C612.7,1088.3 610.7,1089.5 615.1,1087.3 C619.5,1085.1 629.2,1079.2 636.2,1076.4 C643.2,1073.6 649.4,1072.4 657.3,1070.4 C665.2,1068.4 674.9,1066.4 683.7,1064.6 C692.5,1062.8 701.3,1060.8 710.1,1059.3 C718.9,1057.8 727.7,1055.7 736.5,1055.3 C745.3,1054.9 754.0,1056.8 762.8,1056.7 C771.6,1056.6 783.0,1054.9 789.2,1054.6 C795.4,1054.3 794.2,1055.4 800.0,1055.0 C805.8,1054.6 817.1,1053.0 823.8,1052.1 C830.5,1051.2 834.4,1049.7 840.4,1049.7 C846.4,1049.7 853.1,1052.6 859.5,1052.1 C865.9,1051.6 870.6,1047.8 878.5,1046.6 C886.4,1045.4 898.3,1045.7 907.0,1045.0 C915.7,1044.3 924.0,1042.6 930.8,1042.3 C937.5,1042.0 942.0,1042.3 947.5,1043.1 C953.0,1043.9 959.8,1046.9 964.1,1047.1 C968.5,1047.3 970.0,1044.4 973.6,1044.3 C977.2,1044.2 980.7,1046.4 985.5,1046.6 C990.3,1046.8 996.2,1045.3 1002.2,1045.4 C1008.2,1045.5 1015.7,1047.7 1021.2,1047.1 C1026.8,1046.5 1030.0,1042.8 1035.5,1041.9 C1041.0,1041.0 1049.3,1040.7 1054.5,1041.9 C1059.7,1043.1 1061.2,1047.3 1066.4,1049.0 C1071.6,1050.7 1078.7,1051.3 1085.4,1052.1 C1092.2,1052.9 1101.2,1053.0 1106.9,1053.8 C1112.7,1054.5 1114.8,1057.2 1119.9,1056.6 C1125.1,1056.0 1131.7,1052.2 1137.8,1050.2 C1143.9,1048.2 1150.1,1046.3 1156.8,1044.3 C1163.5,1042.3 1172.7,1039.1 1178.2,1038.3 C1183.8,1037.5 1185.7,1040.9 1190.1,1039.5 C1194.5,1038.1 1198.1,1032.6 1204.4,1030.0 C1210.8,1027.4 1220.3,1026.0 1228.2,1024.0 C1236.1,1022.0 1244.4,1019.9 1251.9,1018.1 C1259.4,1016.3 1266.6,1013.4 1273.1,1013.4 C1279.6,1013.4 1285.2,1018.0 1290.9,1018.2 C1296.7,1018.4 1301.6,1015.8 1307.6,1014.6 C1313.5,1013.4 1321.4,1011.3 1326.6,1011.0 C1331.8,1010.7 1333.8,1013.9 1338.5,1012.7 C1343.2,1011.5 1349.1,1006.4 1355.1,1003.9 C1361.0,1001.4 1367.8,998.7 1374.2,998.0 C1380.6,997.3 1387.7,998.9 1393.2,999.9 C1398.8,1000.9 1402.0,1003.5 1407.5,1003.9 C1413.0,1004.3 1420.2,1003.3 1426.5,1002.2 C1432.8,1001.1 1439.2,998.9 1445.5,997.5 C1451.8,996.1 1459.0,994.6 1464.6,993.7 C1470.1,992.8 1474.8,992.9 1478.8,992.0 C1482.8,991.1 1484.8,988.4 1488.4,988.4 C1492.0,988.4 1496.2,991.6 1500.2,992.0 C1504.2,992.4 1508.5,990.6 1512.1,990.8 C1515.7,991.0 1518.1,993.4 1521.7,993.2 C1525.3,993.0 1527.6,990.4 1533.5,989.6 C1539.4,988.8 1550.5,989.1 1557.3,988.4 C1564.0,987.7 1567.7,986.1 1574.0,985.6 C1580.3,985.1 1589.9,984.7 1595.4,985.6 C1601.0,986.5 1603.3,990.1 1607.3,990.8 C1611.3,991.5 1615.6,990.3 1619.2,989.6 C1622.8,988.9 1625.1,986.8 1628.7,986.8 C1632.3,986.8 1636.2,988.9 1640.6,989.6 C1645.0,990.3 1650.2,991.6 1654.9,990.8 C1659.7,990.0 1663.5,986.7 1669.1,984.9 C1674.6,983.1 1682.2,981.4 1688.2,980.1 C1694.2,978.8 1700.5,978.1 1704.8,977.3 C1709.1,976.5 1712.7,975.7 1714.3,975.4"/>
<path transform="translate(-0.55,0)" d="M431.2,776.1 C434.1,776.1 445.1,776.1 448.8,776.3 C452.5,776.5 448.8,777.3 453.5,777.5 C458.2,777.7 472.7,777.8 477.3,777.5 C481.9,777.2 479.3,775.7 480.9,775.8 C482.5,775.9 485.1,776.9 486.8,777.9 C488.5,778.9 489.9,780.1 491.2,782.0 C492.5,783.9 493.5,786.5 494.6,789.2 C495.7,791.9 496.2,793.2 497.8,798.0 C499.4,802.8 502.2,811.2 504.0,817.7 C505.8,824.2 507.1,830.5 508.5,836.9 C509.9,843.3 511.3,849.8 512.7,856.2 C514.1,862.6 515.3,869.0 516.7,875.4 C518.1,881.8 519.8,888.2 521.3,894.6 C522.8,901.0 524.4,907.4 525.8,913.8 C527.2,920.2 528.3,926.7 529.6,933.1 C530.9,939.5 532.4,945.9 533.7,952.3 C535.0,958.7 536.2,965.1 537.5,971.5 C538.8,977.9 540.4,984.4 541.7,990.8 C543.1,997.2 544.2,1003.6 545.6,1010.0 C547.0,1016.4 548.5,1022.8 550.2,1029.2 C551.9,1035.6 553.7,1042.1 555.6,1048.5 C557.5,1054.9 559.6,1061.9 561.7,1067.7 C563.9,1073.5 566.1,1078.5 568.5,1083.1 C570.9,1087.6 573.2,1092.1 576.0,1095.0 C578.8,1097.9 581.6,1100.3 585.4,1100.6 C589.2,1100.8 594.7,1098.3 598.8,1096.5 C602.9,1094.7 607.3,1091.3 610.0,1089.8 C612.7,1088.3 610.7,1089.5 615.1,1087.3 C619.5,1085.1 629.2,1079.2 636.2,1076.4 C643.2,1073.6 649.4,1072.4 657.3,1070.4 C665.2,1068.4 674.9,1066.4 683.7,1064.6 C692.5,1062.8 701.3,1060.8 710.1,1059.3 C718.9,1057.8 727.7,1055.7 736.5,1055.3 C745.3,1054.9 754.0,1056.8 762.8,1056.7 C771.6,1056.6 783.0,1054.9 789.2,1054.6 C795.4,1054.3 794.2,1055.4 800.0,1055.0 C805.8,1054.6 817.1,1053.0 823.8,1052.1 C830.5,1051.2 834.4,1049.7 840.4,1049.7 C846.4,1049.7 853.1,1052.6 859.5,1052.1 C865.9,1051.6 870.6,1047.8 878.5,1046.6 C886.4,1045.4 898.3,1045.7 907.0,1045.0 C915.7,1044.3 924.0,1042.6 930.8,1042.3 C937.5,1042.0 942.0,1042.3 947.5,1043.1 C953.0,1043.9 959.8,1046.9 964.1,1047.1 C968.5,1047.3 970.0,1044.4 973.6,1044.3 C977.2,1044.2 980.7,1046.4 985.5,1046.6 C990.3,1046.8 996.2,1045.3 1002.2,1045.4 C1008.2,1045.5 1015.7,1047.7 1021.2,1047.1 C1026.8,1046.5 1030.0,1042.8 1035.5,1041.9 C1041.0,1041.0 1049.3,1040.7 1054.5,1041.9 C1059.7,1043.1 1061.2,1047.3 1066.4,1049.0 C1071.6,1050.7 1078.7,1051.3 1085.4,1052.1 C1092.2,1052.9 1101.2,1053.0 1106.9,1053.8 C1112.7,1054.5 1114.8,1057.2 1119.9,1056.6 C1125.1,1056.0 1131.7,1052.2 1137.8,1050.2 C1143.9,1048.2 1150.1,1046.3 1156.8,1044.3 C1163.5,1042.3 1172.7,1039.1 1178.2,1038.3 C1183.8,1037.5 1185.7,1040.9 1190.1,1039.5 C1194.5,1038.1 1198.1,1032.6 1204.4,1030.0 C1210.8,1027.4 1220.3,1026.0 1228.2,1024.0 C1236.1,1022.0 1244.4,1019.9 1251.9,1018.1 C1259.4,1016.3 1266.6,1013.4 1273.1,1013.4 C1279.6,1013.4 1285.2,1018.0 1290.9,1018.2 C1296.7,1018.4 1301.6,1015.8 1307.6,1014.6 C1313.5,1013.4 1321.4,1011.3 1326.6,1011.0 C1331.8,1010.7 1333.8,1013.9 1338.5,1012.7 C1343.2,1011.5 1349.1,1006.4 1355.1,1003.9 C1361.0,1001.4 1367.8,998.7 1374.2,998.0 C1380.6,997.3 1387.7,998.9 1393.2,999.9 C1398.8,1000.9 1402.0,1003.5 1407.5,1003.9 C1413.0,1004.3 1420.2,1003.3 1426.5,1002.2 C1432.8,1001.1 1439.2,998.9 1445.5,997.5 C1451.8,996.1 1459.0,994.6 1464.6,993.7 C1470.1,992.8 1474.8,992.9 1478.8,992.0 C1482.8,991.1 1484.8,988.4 1488.4,988.4 C1492.0,988.4 1496.2,991.6 1500.2,992.0 C1504.2,992.4 1508.5,990.6 1512.1,990.8 C1515.7,991.0 1518.1,993.4 1521.7,993.2 C1525.3,993.0 1527.6,990.4 1533.5,989.6 C1539.4,988.8 1550.5,989.1 1557.3,988.4 C1564.0,987.7 1567.7,986.1 1574.0,985.6 C1580.3,985.1 1589.9,984.7 1595.4,985.6 C1601.0,986.5 1603.3,990.1 1607.3,990.8 C1611.3,991.5 1615.6,990.3 1619.2,989.6 C1622.8,988.9 1625.1,986.8 1628.7,986.8 C1632.3,986.8 1636.2,988.9 1640.6,989.6 C1645.0,990.3 1650.2,991.6 1654.9,990.8 C1659.7,990.0 1663.5,986.7 1669.1,984.9 C1674.6,983.1 1682.2,981.4 1688.2,980.1 C1694.2,978.8 1700.5,978.1 1704.8,977.3 C1709.1,976.5 1712.7,975.7 1714.3,975.4"/>
<path transform="translate(0.55,0)" d="M431.2,776.1 C434.1,776.1 445.1,776.1 448.8,776.3 C452.5,776.5 448.8,777.3 453.5,777.5 C458.2,777.7 472.7,777.8 477.3,777.5 C481.9,777.2 479.3,775.7 480.9,775.8 C482.5,775.9 485.1,776.9 486.8,777.9 C488.5,778.9 489.9,780.1 491.2,782.0 C492.5,783.9 493.5,786.5 494.6,789.2 C495.7,791.9 496.2,793.2 497.8,798.0 C499.4,802.8 502.2,811.2 504.0,817.7 C505.8,824.2 507.1,830.5 508.5,836.9 C509.9,843.3 511.3,849.8 512.7,856.2 C514.1,862.6 515.3,869.0 516.7,875.4 C518.1,881.8 519.8,888.2 521.3,894.6 C522.8,901.0 524.4,907.4 525.8,913.8 C527.2,920.2 528.3,926.7 529.6,933.1 C530.9,939.5 532.4,945.9 533.7,952.3 C535.0,958.7 536.2,965.1 537.5,971.5 C538.8,977.9 540.4,984.4 541.7,990.8 C543.1,997.2 544.2,1003.6 545.6,1010.0 C547.0,1016.4 548.5,1022.8 550.2,1029.2 C551.9,1035.6 553.7,1042.1 555.6,1048.5 C557.5,1054.9 559.6,1061.9 561.7,1067.7 C563.9,1073.5 566.1,1078.5 568.5,1083.1 C570.9,1087.6 573.2,1092.1 576.0,1095.0 C578.8,1097.9 581.6,1100.3 585.4,1100.6 C589.2,1100.8 594.7,1098.3 598.8,1096.5 C602.9,1094.7 607.3,1091.3 610.0,1089.8 C612.7,1088.3 610.7,1089.5 615.1,1087.3 C619.5,1085.1 629.2,1079.2 636.2,1076.4 C643.2,1073.6 649.4,1072.4 657.3,1070.4 C665.2,1068.4 674.9,1066.4 683.7,1064.6 C692.5,1062.8 701.3,1060.8 710.1,1059.3 C718.9,1057.8 727.7,1055.7 736.5,1055.3 C745.3,1054.9 754.0,1056.8 762.8,1056.7 C771.6,1056.6 783.0,1054.9 789.2,1054.6 C795.4,1054.3 794.2,1055.4 800.0,1055.0 C805.8,1054.6 817.1,1053.0 823.8,1052.1 C830.5,1051.2 834.4,1049.7 840.4,1049.7 C846.4,1049.7 853.1,1052.6 859.5,1052.1 C865.9,1051.6 870.6,1047.8 878.5,1046.6 C886.4,1045.4 898.3,1045.7 907.0,1045.0 C915.7,1044.3 924.0,1042.6 930.8,1042.3 C937.5,1042.0 942.0,1042.3 947.5,1043.1 C953.0,1043.9 959.8,1046.9 964.1,1047.1 C968.5,1047.3 970.0,1044.4 973.6,1044.3 C977.2,1044.2 980.7,1046.4 985.5,1046.6 C990.3,1046.8 996.2,1045.3 1002.2,1045.4 C1008.2,1045.5 1015.7,1047.7 1021.2,1047.1 C1026.8,1046.5 1030.0,1042.8 1035.5,1041.9 C1041.0,1041.0 1049.3,1040.7 1054.5,1041.9 C1059.7,1043.1 1061.2,1047.3 1066.4,1049.0 C1071.6,1050.7 1078.7,1051.3 1085.4,1052.1 C1092.2,1052.9 1101.2,1053.0 1106.9,1053.8 C1112.7,1054.5 1114.8,1057.2 1119.9,1056.6 C1125.1,1056.0 1131.7,1052.2 1137.8,1050.2 C1143.9,1048.2 1150.1,1046.3 1156.8,1044.3 C1163.5,1042.3 1172.7,1039.1 1178.2,1038.3 C1183.8,1037.5 1185.7,1040.9 1190.1,1039.5 C1194.5,1038.1 1198.1,1032.6 1204.4,1030.0 C1210.8,1027.4 1220.3,1026.0 1228.2,1024.0 C1236.1,1022.0 1244.4,1019.9 1251.9,1018.1 C1259.4,1016.3 1266.6,1013.4 1273.1,1013.4 C1279.6,1013.4 1285.2,1018.0 1290.9,1018.2 C1296.7,1018.4 1301.6,1015.8 1307.6,1014.6 C1313.5,1013.4 1321.4,1011.3 1326.6,1011.0 C1331.8,1010.7 1333.8,1013.9 1338.5,1012.7 C1343.2,1011.5 1349.1,1006.4 1355.1,1003.9 C1361.0,1001.4 1367.8,998.7 1374.2,998.0 C1380.6,997.3 1387.7,998.9 1393.2,999.9 C1398.8,1000.9 1402.0,1003.5 1407.5,1003.9 C1413.0,1004.3 1420.2,1003.3 1426.5,1002.2 C1432.8,1001.1 1439.2,998.9 1445.5,997.5 C1451.8,996.1 1459.0,994.6 1464.6,993.7 C1470.1,992.8 1474.8,992.9 1478.8,992.0 C1482.8,991.1 1484.8,988.4 1488.4,988.4 C1492.0,988.4 1496.2,991.6 1500.2,992.0 C1504.2,992.4 1508.5,990.6 1512.1,990.8 C1515.7,991.0 1518.1,993.4 1521.7,993.2 C1525.3,993.0 1527.6,990.4 1533.5,989.6 C1539.4,988.8 1550.5,989.1 1557.3,988.4 C1564.0,987.7 1567.7,986.1 1574.0,985.6 C1580.3,985.1 1589.9,984.7 1595.4,985.6 C1601.0,986.5 1603.3,990.1 1607.3,990.8 C1611.3,991.5 1615.6,990.3 1619.2,989.6 C1622.8,988.9 1625.1,986.8 1628.7,986.8 C1632.3,986.8 1636.2,988.9 1640.6,989.6 C1645.0,990.3 1650.2,991.6 1654.9,990.8 C1659.7,990.0 1663.5,986.7 1669.1,984.9 C1674.6,983.1 1682.2,981.4 1688.2,980.1 C1694.2,978.8 1700.5,978.1 1704.8,977.3 C1709.1,976.5 1712.7,975.7 1714.3,975.4"/>
</g>
<circle cx="1714.3" cy="975.4" r="4.5" fill="#ff0000" shape-rendering="auto"/>
<text transform="translate(1127,812.8) scale(1.025,1.035)" font-size="83">77</text>
<text transform="translate(1236.8,812.8) scale(1.03,1.035)" font-size="83">Hz</text>
<text transform="translate(1568,744.6) scale(1,1.02)" font-size="103">b</text>
<text transform="translate(1627.7,743.6) scale(1,0.97)" font-size="103">)</text>
<rect x="416" y="1180" width="1314" height="9" fill="#000"/>
<rect x="416" y="1600" width="1314" height="9" fill="#000"/>
<rect x="427" y="1180" width="9" height="429" fill="#000"/>
<rect x="1721" y="1180" width="9" height="429" fill="#000"/>
<rect x="427" y="1609" width="9" height="25" fill="#000"/>
<rect x="611.857" y="1189" width="9" height="11" fill="#000"/>
<rect x="611.857" y="1609" width="9" height="11" fill="#000"/>
<rect x="796.714" y="1189" width="9" height="25" fill="#000"/>
<rect x="796.714" y="1609" width="9" height="25" fill="#000"/>
<rect x="981.571" y="1189" width="9" height="11" fill="#000"/>
<rect x="981.571" y="1609" width="9" height="11" fill="#000"/>
<rect x="1166.43" y="1189" width="9" height="25" fill="#000"/>
<rect x="1166.43" y="1609" width="9" height="25" fill="#000"/>
<rect x="1351.29" y="1189" width="9" height="11" fill="#000"/>
<rect x="1351.29" y="1609" width="9" height="11" fill="#000"/>
<rect x="1536.14" y="1189" width="9" height="25" fill="#000"/>
<rect x="1536.14" y="1609" width="9" height="25" fill="#000"/>
<rect x="1721" y="1609" width="9" height="11" fill="#000"/>
<rect x="402" y="1530" width="25" height="9" fill="#000"/>
<rect x="1696" y="1530" width="25" height="9" fill="#000"/>
<rect x="402" y="1390" width="25" height="9" fill="#000"/>
<rect x="1696" y="1390" width="25" height="9" fill="#000"/>
<rect x="402" y="1249" width="25" height="9" fill="#000"/>
<rect x="1696" y="1249" width="25" height="9" fill="#000"/>
<rect x="416" y="1460" width="11" height="9" fill="#000"/>
<rect x="1710" y="1460" width="11" height="9" fill="#000"/>
<rect x="416" y="1319" width="11" height="9" fill="#000"/>
<rect x="1710" y="1319" width="11" height="9" fill="#000"/>
<text transform="translate(391.5,1562.9) scale(1,1.035)" font-size="91" text-anchor="end">-0.002</text>
<text transform="translate(391.5,1422.5) scale(1,1.035)" font-size="91" text-anchor="end">0.000</text>
<text transform="translate(391.5,1282.1) scale(1,1.035)" font-size="91" text-anchor="end">0.002</text>
<g fill="none" stroke="#000" stroke-width="5.6" stroke-linejoin="round" stroke-linecap="butt" shape-rendering="auto">
<path d="M431.5,1332.0 L444.3,1309.7 L449.9,1299.4 L454.6,1305.9 L460.2,1309.7 L468.6,1313.4 L473.2,1321.8 L478.8,1327.4 L480.7,1335.8 L487.3,1342.4 L491.0,1350.8 L496.6,1351.7 L500.3,1367.6 L505.9,1371.3 L514.3,1373.2 L519.0,1388.1 L525.5,1390.9 L529.3,1406.8 L532.1,1416.2 L537.7,1410.5 L541.4,1421.8 L547.0,1433.0 L551.7,1439.5 L555.4,1447.9 L563.8,1449.8 L568.5,1441.4 L574.1,1456.3 L578.8,1439.5 L582.5,1439.5 L588.1,1456.3 L591.9,1460.0 L596.5,1453.5 L602.1,1451.6 L605.9,1434.8 L611.5,1450.7 L616.2,1443.2 L623.6,1449.8 L627.4,1449.8 L638.6,1436.7 L647.0,1451.6 L650.7,1448.8 L656.3,1433.0 L661.0,1441.4 L664.7,1440.4 L668.5,1428.3 L674.1,1422.7 L680.6,1428.3 L685.3,1427.4 L690.9,1413.3 L699.3,1443.2 L705.8,1422.7 L714.2,1420.8 L723.6,1441.4 L728.2,1434.8 L735.7,1418.0 L742.2,1440.4 L746.0,1434.8 L752.5,1395.6 L758.1,1425.5 L765.6,1463.8 L770.3,1427.4 L774.0,1387.2 L777.7,1412.4 L782.4,1418.0 L786.2,1438.6 L789.9,1416.2 L792.7,1396.5 L800.2,1398.4 L809.5,1397.5 L812.3,1416.2 L815.1,1434.8 L818.8,1416.2 L821.6,1369.4 L824.5,1349.8 L828.2,1369.4 L831.9,1393.7 L834.7,1397.5 L838.5,1388.1 L840.3,1367.6 L844.1,1359.2 L847.8,1367.6 L851.5,1378.8 L855.3,1375.1 L858.1,1360.1 L860.9,1354.5 L863.7,1363.8 L865.5,1374.1 L869.3,1367.6 L872.1,1359.2 L879.6,1363.8 L883.3,1373.2 L886.1,1388.1 L888.9,1412.4 L890.8,1423.6 L894.5,1406.8 L897.3,1378.8 L899.2,1335.8 L902.9,1310.6 L906.6,1335.8 L909.5,1362.0 L914.1,1375.1 L916.9,1397.5 L919.7,1416.2 L921.6,1428.3 L924.4,1406.8 L927.2,1397.5 L930.9,1391.9 L932.8,1365.7 L934.7,1352.6 L937.5,1378.8 L939.3,1414.3 L942.1,1406.8 L944.9,1378.8 L946.8,1356.4 L950.5,1349.8 L954.3,1362.0 L957.1,1388.1 L959.0,1407.7 L961.8,1391.9 L964.6,1350.8 L967.4,1330.2 L970.2,1354.5 L972.0,1404.9 L975.8,1393.7 L981.4,1402.1 L984.2,1360.1 L987.0,1341.4 L989.8,1360.1 L992.6,1396.5 L996.3,1388.1 L999.1,1347.0 L1002.9,1334.9 L1006.6,1324.6 L1008.5,1284.5 L1011.3,1294.7 L1014.1,1339.6 L1016.9,1360.1 L1022.5,1344.2 L1026.2,1362.0 L1029.0,1356.4 L1031.8,1336.8 L1034.6,1354.5 L1037.4,1379.7 L1041.2,1362.0 L1044.0,1313.4 L1045.8,1305.0 L1048.6,1332.1 L1051.4,1386.3 L1055.2,1378.8 L1059.8,1362.0 L1066.4,1376.0 L1070.1,1369.4 L1072.9,1332.1 L1075.7,1322.7 L1079.4,1341.4 L1082.2,1365.7 L1087.9,1363.8 L1090.7,1388.1 L1093.5,1416.2 L1095.3,1429.2 L1098.1,1406.8 L1100.9,1313.4 L1103.7,1257.4 L1106.5,1248.0 L1109.3,1285.4 L1111.2,1296.6 L1115.9,1285.4 L1118.7,1313.4 L1121.5,1388.1 L1124.3,1443.2 L1128.0,1388.1 L1129.9,1347.0 L1134.6,1345.2 L1138.3,1321.8 L1142.0,1341.4 L1147.6,1337.7 L1150.4,1365.7 L1154.2,1380.7 L1157.9,1350.8 L1159.8,1313.4 L1162.6,1295.7 L1166.3,1313.4 L1169.1,1360.1 L1171.9,1376.9 L1176.6,1384.4 L1179.4,1406.8 L1181.3,1418.0 L1184.1,1406.8 L1185.9,1360.1 L1187.8,1324.6 L1189.7,1319.9 L1192.5,1335.8 L1193.4,1388.1 L1195.3,1427.4 L1199.0,1416.2 L1201.8,1391.9 L1206.5,1400.3 L1210.2,1388.1 L1212.1,1379.7 L1216.8,1393.7 L1222.4,1397.5 L1224.2,1434.8 L1226.7,1451.6 L1229.8,1434.8 L1231.7,1388.1 L1234.5,1369.4 L1238.2,1373.2 L1241.0,1406.8 L1243.8,1453.5 L1246.6,1484.3 L1250.4,1453.5 L1254.1,1406.8 L1257.9,1341.4 L1262.5,1304.1 L1265.3,1341.4 L1268.1,1388.1 L1270.9,1425.5 L1273.7,1472.2 L1275.6,1499.3 L1278.4,1462.9 L1280.3,1388.1 L1282.1,1348.9 L1284.9,1369.4 L1287.7,1416.2 L1291.5,1434.8 L1295.2,1446.0 L1299.0,1444.2 L1302.7,1425.5 L1306.4,1388.1 L1309.2,1350.8 L1312.0,1329.3 L1315.8,1343.3 L1318.6,1388.1 L1320.4,1408.7 L1324.2,1397.5 L1327.0,1434.8 L1328.8,1454.4 L1332.6,1434.8 L1335.4,1350.8 L1338.2,1294.7 L1340.6,1277.9 L1342.9,1304.1 L1344.7,1369.4 L1346.6,1416.2 L1348.5,1435.8 L1352.2,1429.2 L1355.9,1408.7 L1360.6,1404.9 L1364.3,1416.2 L1368.1,1444.2 L1371.8,1461.9 L1374.6,1444.2 L1376.5,1418.0 L1379.3,1413.3 L1383.0,1431.1 L1385.8,1406.8 L1388.6,1398.4 L1391.4,1425.5 L1394.2,1454.4 L1398.0,1434.8 L1401.7,1424.6 L1405.4,1431.1 L1408.2,1462.9 L1410.5,1482.5 L1413.8,1444.2 L1416.3,1399.3 L1419.4,1425.5 L1421.3,1431.1 L1426.0,1417.1 L1428.8,1444.2 L1431.6,1481.5 L1434.0,1493.7 L1437.2,1462.9 L1440.9,1425.5 L1444.7,1413.3 L1448.4,1429.2 L1452.1,1453.5 L1454.9,1465.7 L1458.7,1444.2 L1461.5,1403.1 L1463.3,1395.6 L1465.2,1425.5 L1468.0,1470.0 L1471.0,1494.6 L1474.7,1453.5 L1476.6,1429.2 L1479.4,1422.7 L1482.2,1444.2 L1484.1,1490.9 L1485.9,1514.2 L1488.7,1481.5 L1490.6,1444.2 L1493.4,1443.2 L1495.3,1472.2 L1498.1,1476.9 L1500.9,1453.5 L1502.7,1406.8 L1504.6,1399.3 L1507.4,1416.2 L1510.2,1462.9 L1513.0,1490.9 L1514.9,1496.5 L1517.7,1472.2 L1520.5,1438.6 L1522.9,1436.7 L1525.2,1472.2 L1528.0,1505.8 L1530.8,1490.9 L1533.6,1453.5 L1538.2,1444.2 L1542.0,1462.9 L1546.6,1476.9 L1550.4,1453.5 L1552.3,1406.8 L1555.1,1367.6 L1557.9,1367.6 L1560.7,1406.8 L1563.5,1462.9 L1566.3,1500.2 L1569.1,1490.9 L1571.9,1434.8 L1574.7,1413.3 L1578.4,1425.5 L1581.2,1462.9 L1584.0,1509.5 L1585.9,1524.5 L1588.7,1500.2 L1590.5,1449.8 L1594.3,1453.5 L1597.1,1469.4 L1599.9,1444.2 L1603.6,1430.2 L1606.4,1472.2 L1609.2,1493.7 L1612.0,1462.9 L1613.9,1416.2 L1616.7,1421.8 L1619.5,1461.0 L1622.3,1434.8 L1624.2,1397.5 L1627.0,1388.1 L1629.8,1401.2 L1632.6,1433.0 L1635.8,1416.2 L1638.2,1400.3 L1641.0,1416.2 L1643.8,1462.9 L1646.6,1496.5 L1649.4,1511.4 L1652.2,1490.9 L1655.0,1462.9 L1658.7,1449.8 L1662.5,1434.8 L1665.3,1406.8 L1668.1,1392.8 L1671.8,1392.8 L1675.5,1405.9 L1679.3,1397.5 L1682.1,1382.5 L1684.9,1388.1 L1686.8,1425.5 L1689.6,1459.1 L1691.4,1465.7 L1695.2,1453.5 L1698.9,1434.8 L1701.1,1433.9 L1703.6,1459.1 L1706.4,1463.8 L1710.1,1461.0 L1711.0,1434.8 L1712.0,1397.5 L1713.8,1375.1 L1716.1,1359.2"/>
<path transform="translate(-0.5,0)" d="M431.5,1332.0 L444.3,1309.7 L449.9,1299.4 L454.6,1305.9 L460.2,1309.7 L468.6,1313.4 L473.2,1321.8 L478.8,1327.4 L480.7,1335.8 L487.3,1342.4 L491.0,1350.8 L496.6,1351.7 L500.3,1367.6 L505.9,1371.3 L514.3,1373.2 L519.0,1388.1 L525.5,1390.9 L529.3,1406.8 L532.1,1416.2 L537.7,1410.5 L541.4,1421.8 L547.0,1433.0 L551.7,1439.5 L555.4,1447.9 L563.8,1449.8 L568.5,1441.4 L574.1,1456.3 L578.8,1439.5 L582.5,1439.5 L588.1,1456.3 L591.9,1460.0 L596.5,1453.5 L602.1,1451.6 L605.9,1434.8 L611.5,1450.7 L616.2,1443.2 L623.6,1449.8 L627.4,1449.8 L638.6,1436.7 L647.0,1451.6 L650.7,1448.8 L656.3,1433.0 L661.0,1441.4 L664.7,1440.4 L668.5,1428.3 L674.1,1422.7 L680.6,1428.3 L685.3,1427.4 L690.9,1413.3 L699.3,1443.2 L705.8,1422.7 L714.2,1420.8 L723.6,1441.4 L728.2,1434.8 L735.7,1418.0 L742.2,1440.4 L746.0,1434.8 L752.5,1395.6 L758.1,1425.5 L765.6,1463.8 L770.3,1427.4 L774.0,1387.2 L777.7,1412.4 L782.4,1418.0 L786.2,1438.6 L789.9,1416.2 L792.7,1396.5 L800.2,1398.4 L809.5,1397.5 L812.3,1416.2 L815.1,1434.8 L818.8,1416.2 L821.6,1369.4 L824.5,1349.8 L828.2,1369.4 L831.9,1393.7 L834.7,1397.5 L838.5,1388.1 L840.3,1367.6 L844.1,1359.2 L847.8,1367.6 L851.5,1378.8 L855.3,1375.1 L858.1,1360.1 L860.9,1354.5 L863.7,1363.8 L865.5,1374.1 L869.3,1367.6 L872.1,1359.2 L879.6,1363.8 L883.3,1373.2 L886.1,1388.1 L888.9,1412.4 L890.8,1423.6 L894.5,1406.8 L897.3,1378.8 L899.2,1335.8 L902.9,1310.6 L906.6,1335.8 L909.5,1362.0 L914.1,1375.1 L916.9,1397.5 L919.7,1416.2 L921.6,1428.3 L924.4,1406.8 L927.2,1397.5 L930.9,1391.9 L932.8,1365.7 L934.7,1352.6 L937.5,1378.8 L939.3,1414.3 L942.1,1406.8 L944.9,1378.8 L946.8,1356.4 L950.5,1349.8 L954.3,1362.0 L957.1,1388.1 L959.0,1407.7 L961.8,1391.9 L964.6,1350.8 L967.4,1330.2 L970.2,1354.5 L972.0,1404.9 L975.8,1393.7 L981.4,1402.1 L984.2,1360.1 L987.0,1341.4 L989.8,1360.1 L992.6,1396.5 L996.3,1388.1 L999.1,1347.0 L1002.9,1334.9 L1006.6,1324.6 L1008.5,1284.5 L1011.3,1294.7 L1014.1,1339.6 L1016.9,1360.1 L1022.5,1344.2 L1026.2,1362.0 L1029.0,1356.4 L1031.8,1336.8 L1034.6,1354.5 L1037.4,1379.7 L1041.2,1362.0 L1044.0,1313.4 L1045.8,1305.0 L1048.6,1332.1 L1051.4,1386.3 L1055.2,1378.8 L1059.8,1362.0 L1066.4,1376.0 L1070.1,1369.4 L1072.9,1332.1 L1075.7,1322.7 L1079.4,1341.4 L1082.2,1365.7 L1087.9,1363.8 L1090.7,1388.1 L1093.5,1416.2 L1095.3,1429.2 L1098.1,1406.8 L1100.9,1313.4 L1103.7,1257.4 L1106.5,1248.0 L1109.3,1285.4 L1111.2,1296.6 L1115.9,1285.4 L1118.7,1313.4 L1121.5,1388.1 L1124.3,1443.2 L1128.0,1388.1 L1129.9,1347.0 L1134.6,1345.2 L1138.3,1321.8 L1142.0,1341.4 L1147.6,1337.7 L1150.4,1365.7 L1154.2,1380.7 L1157.9,1350.8 L1159.8,1313.4 L1162.6,1295.7 L1166.3,1313.4 L1169.1,1360.1 L1171.9,1376.9 L1176.6,1384.4 L1179.4,1406.8 L1181.3,1418.0 L1184.1,1406.8 L1185.9,1360.1 L1187.8,1324.6 L1189.7,1319.9 L1192.5,1335.8 L1193.4,1388.1 L1195.3,1427.4 L1199.0,1416.2 L1201.8,1391.9 L1206.5,1400.3 L1210.2,1388.1 L1212.1,1379.7 L1216.8,1393.7 L1222.4,1397.5 L1224.2,1434.8 L1226.7,1451.6 L1229.8,1434.8 L1231.7,1388.1 L1234.5,1369.4 L1238.2,1373.2 L1241.0,1406.8 L1243.8,1453.5 L1246.6,1484.3 L1250.4,1453.5 L1254.1,1406.8 L1257.9,1341.4 L1262.5,1304.1 L1265.3,1341.4 L1268.1,1388.1 L1270.9,1425.5 L1273.7,1472.2 L1275.6,1499.3 L1278.4,1462.9 L1280.3,1388.1 L1282.1,1348.9 L1284.9,1369.4 L1287.7,1416.2 L1291.5,1434.8 L1295.2,1446.0 L1299.0,1444.2 L1302.7,1425.5 L1306.4,1388.1 L1309.2,1350.8 L1312.0,1329.3 L1315.8,1343.3 L1318.6,1388.1 L1320.4,1408.7 L1324.2,1397.5 L1327.0,1434.8 L1328.8,1454.4 L1332.6,1434.8 L1335.4,1350.8 L1338.2,1294.7 L1340.6,1277.9 L1342.9,1304.1 L1344.7,1369.4 L1346.6,1416.2 L1348.5,1435.8 L1352.2,1429.2 L1355.9,1408.7 L1360.6,1404.9 L1364.3,1416.2 L1368.1,1444.2 L1371.8,1461.9 L1374.6,1444.2 L1376.5,1418.0 L1379.3,1413.3 L1383.0,1431.1 L1385.8,1406.8 L1388.6,1398.4 L1391.4,1425.5 L1394.2,1454.4 L1398.0,1434.8 L1401.7,1424.6 L1405.4,1431.1 L1408.2,1462.9 L1410.5,1482.5 L1413.8,1444.2 L1416.3,1399.3 L1419.4,1425.5 L1421.3,1431.1 L1426.0,1417.1 L1428.8,1444.2 L1431.6,1481.5 L1434.0,1493.7 L1437.2,1462.9 L1440.9,1425.5 L1444.7,1413.3 L1448.4,1429.2 L1452.1,1453.5 L1454.9,1465.7 L1458.7,1444.2 L1461.5,1403.1 L1463.3,1395.6 L1465.2,1425.5 L1468.0,1470.0 L1471.0,1494.6 L1474.7,1453.5 L1476.6,1429.2 L1479.4,1422.7 L1482.2,1444.2 L1484.1,1490.9 L1485.9,1514.2 L1488.7,1481.5 L1490.6,1444.2 L1493.4,1443.2 L1495.3,1472.2 L1498.1,1476.9 L1500.9,1453.5 L1502.7,1406.8 L1504.6,1399.3 L1507.4,1416.2 L1510.2,1462.9 L1513.0,1490.9 L1514.9,1496.5 L1517.7,1472.2 L1520.5,1438.6 L1522.9,1436.7 L1525.2,1472.2 L1528.0,1505.8 L1530.8,1490.9 L1533.6,1453.5 L1538.2,1444.2 L1542.0,1462.9 L1546.6,1476.9 L1550.4,1453.5 L1552.3,1406.8 L1555.1,1367.6 L1557.9,1367.6 L1560.7,1406.8 L1563.5,1462.9 L1566.3,1500.2 L1569.1,1490.9 L1571.9,1434.8 L1574.7,1413.3 L1578.4,1425.5 L1581.2,1462.9 L1584.0,1509.5 L1585.9,1524.5 L1588.7,1500.2 L1590.5,1449.8 L1594.3,1453.5 L1597.1,1469.4 L1599.9,1444.2 L1603.6,1430.2 L1606.4,1472.2 L1609.2,1493.7 L1612.0,1462.9 L1613.9,1416.2 L1616.7,1421.8 L1619.5,1461.0 L1622.3,1434.8 L1624.2,1397.5 L1627.0,1388.1 L1629.8,1401.2 L1632.6,1433.0 L1635.8,1416.2 L1638.2,1400.3 L1641.0,1416.2 L1643.8,1462.9 L1646.6,1496.5 L1649.4,1511.4 L1652.2,1490.9 L1655.0,1462.9 L1658.7,1449.8 L1662.5,1434.8 L1665.3,1406.8 L1668.1,1392.8 L1671.8,1392.8 L1675.5,1405.9 L1679.3,1397.5 L1682.1,1382.5 L1684.9,1388.1 L1686.8,1425.5 L1689.6,1459.1 L1691.4,1465.7 L1695.2,1453.5 L1698.9,1434.8 L1701.1,1433.9 L1703.6,1459.1 L1706.4,1463.8 L1710.1,1461.0 L1711.0,1434.8 L1712.0,1397.5 L1713.8,1375.1 L1716.1,1359.2"/>
<path transform="translate(0.5,0)" d="M431.5,1332.0 L444.3,1309.7 L449.9,1299.4 L454.6,1305.9 L460.2,1309.7 L468.6,1313.4 L473.2,1321.8 L478.8,1327.4 L480.7,1335.8 L487.3,1342.4 L491.0,1350.8 L496.6,1351.7 L500.3,1367.6 L505.9,1371.3 L514.3,1373.2 L519.0,1388.1 L525.5,1390.9 L529.3,1406.8 L532.1,1416.2 L537.7,1410.5 L541.4,1421.8 L547.0,1433.0 L551.7,1439.5 L555.4,1447.9 L563.8,1449.8 L568.5,1441.4 L574.1,1456.3 L578.8,1439.5 L582.5,1439.5 L588.1,1456.3 L591.9,1460.0 L596.5,1453.5 L602.1,1451.6 L605.9,1434.8 L611.5,1450.7 L616.2,1443.2 L623.6,1449.8 L627.4,1449.8 L638.6,1436.7 L647.0,1451.6 L650.7,1448.8 L656.3,1433.0 L661.0,1441.4 L664.7,1440.4 L668.5,1428.3 L674.1,1422.7 L680.6,1428.3 L685.3,1427.4 L690.9,1413.3 L699.3,1443.2 L705.8,1422.7 L714.2,1420.8 L723.6,1441.4 L728.2,1434.8 L735.7,1418.0 L742.2,1440.4 L746.0,1434.8 L752.5,1395.6 L758.1,1425.5 L765.6,1463.8 L770.3,1427.4 L774.0,1387.2 L777.7,1412.4 L782.4,1418.0 L786.2,1438.6 L789.9,1416.2 L792.7,1396.5 L800.2,1398.4 L809.5,1397.5 L812.3,1416.2 L815.1,1434.8 L818.8,1416.2 L821.6,1369.4 L824.5,1349.8 L828.2,1369.4 L831.9,1393.7 L834.7,1397.5 L838.5,1388.1 L840.3,1367.6 L844.1,1359.2 L847.8,1367.6 L851.5,1378.8 L855.3,1375.1 L858.1,1360.1 L860.9,1354.5 L863.7,1363.8 L865.5,1374.1 L869.3,1367.6 L872.1,1359.2 L879.6,1363.8 L883.3,1373.2 L886.1,1388.1 L888.9,1412.4 L890.8,1423.6 L894.5,1406.8 L897.3,1378.8 L899.2,1335.8 L902.9,1310.6 L906.6,1335.8 L909.5,1362.0 L914.1,1375.1 L916.9,1397.5 L919.7,1416.2 L921.6,1428.3 L924.4,1406.8 L927.2,1397.5 L930.9,1391.9 L932.8,1365.7 L934.7,1352.6 L937.5,1378.8 L939.3,1414.3 L942.1,1406.8 L944.9,1378.8 L946.8,1356.4 L950.5,1349.8 L954.3,1362.0 L957.1,1388.1 L959.0,1407.7 L961.8,1391.9 L964.6,1350.8 L967.4,1330.2 L970.2,1354.5 L972.0,1404.9 L975.8,1393.7 L981.4,1402.1 L984.2,1360.1 L987.0,1341.4 L989.8,1360.1 L992.6,1396.5 L996.3,1388.1 L999.1,1347.0 L1002.9,1334.9 L1006.6,1324.6 L1008.5,1284.5 L1011.3,1294.7 L1014.1,1339.6 L1016.9,1360.1 L1022.5,1344.2 L1026.2,1362.0 L1029.0,1356.4 L1031.8,1336.8 L1034.6,1354.5 L1037.4,1379.7 L1041.2,1362.0 L1044.0,1313.4 L1045.8,1305.0 L1048.6,1332.1 L1051.4,1386.3 L1055.2,1378.8 L1059.8,1362.0 L1066.4,1376.0 L1070.1,1369.4 L1072.9,1332.1 L1075.7,1322.7 L1079.4,1341.4 L1082.2,1365.7 L1087.9,1363.8 L1090.7,1388.1 L1093.5,1416.2 L1095.3,1429.2 L1098.1,1406.8 L1100.9,1313.4 L1103.7,1257.4 L1106.5,1248.0 L1109.3,1285.4 L1111.2,1296.6 L1115.9,1285.4 L1118.7,1313.4 L1121.5,1388.1 L1124.3,1443.2 L1128.0,1388.1 L1129.9,1347.0 L1134.6,1345.2 L1138.3,1321.8 L1142.0,1341.4 L1147.6,1337.7 L1150.4,1365.7 L1154.2,1380.7 L1157.9,1350.8 L1159.8,1313.4 L1162.6,1295.7 L1166.3,1313.4 L1169.1,1360.1 L1171.9,1376.9 L1176.6,1384.4 L1179.4,1406.8 L1181.3,1418.0 L1184.1,1406.8 L1185.9,1360.1 L1187.8,1324.6 L1189.7,1319.9 L1192.5,1335.8 L1193.4,1388.1 L1195.3,1427.4 L1199.0,1416.2 L1201.8,1391.9 L1206.5,1400.3 L1210.2,1388.1 L1212.1,1379.7 L1216.8,1393.7 L1222.4,1397.5 L1224.2,1434.8 L1226.7,1451.6 L1229.8,1434.8 L1231.7,1388.1 L1234.5,1369.4 L1238.2,1373.2 L1241.0,1406.8 L1243.8,1453.5 L1246.6,1484.3 L1250.4,1453.5 L1254.1,1406.8 L1257.9,1341.4 L1262.5,1304.1 L1265.3,1341.4 L1268.1,1388.1 L1270.9,1425.5 L1273.7,1472.2 L1275.6,1499.3 L1278.4,1462.9 L1280.3,1388.1 L1282.1,1348.9 L1284.9,1369.4 L1287.7,1416.2 L1291.5,1434.8 L1295.2,1446.0 L1299.0,1444.2 L1302.7,1425.5 L1306.4,1388.1 L1309.2,1350.8 L1312.0,1329.3 L1315.8,1343.3 L1318.6,1388.1 L1320.4,1408.7 L1324.2,1397.5 L1327.0,1434.8 L1328.8,1454.4 L1332.6,1434.8 L1335.4,1350.8 L1338.2,1294.7 L1340.6,1277.9 L1342.9,1304.1 L1344.7,1369.4 L1346.6,1416.2 L1348.5,1435.8 L1352.2,1429.2 L1355.9,1408.7 L1360.6,1404.9 L1364.3,1416.2 L1368.1,1444.2 L1371.8,1461.9 L1374.6,1444.2 L1376.5,1418.0 L1379.3,1413.3 L1383.0,1431.1 L1385.8,1406.8 L1388.6,1398.4 L1391.4,1425.5 L1394.2,1454.4 L1398.0,1434.8 L1401.7,1424.6 L1405.4,1431.1 L1408.2,1462.9 L1410.5,1482.5 L1413.8,1444.2 L1416.3,1399.3 L1419.4,1425.5 L1421.3,1431.1 L1426.0,1417.1 L1428.8,1444.2 L1431.6,1481.5 L1434.0,1493.7 L1437.2,1462.9 L1440.9,1425.5 L1444.7,1413.3 L1448.4,1429.2 L1452.1,1453.5 L1454.9,1465.7 L1458.7,1444.2 L1461.5,1403.1 L1463.3,1395.6 L1465.2,1425.5 L1468.0,1470.0 L1471.0,1494.6 L1474.7,1453.5 L1476.6,1429.2 L1479.4,1422.7 L1482.2,1444.2 L1484.1,1490.9 L1485.9,1514.2 L1488.7,1481.5 L1490.6,1444.2 L1493.4,1443.2 L1495.3,1472.2 L1498.1,1476.9 L1500.9,1453.5 L1502.7,1406.8 L1504.6,1399.3 L1507.4,1416.2 L1510.2,1462.9 L1513.0,1490.9 L1514.9,1496.5 L1517.7,1472.2 L1520.5,1438.6 L1522.9,1436.7 L1525.2,1472.2 L1528.0,1505.8 L1530.8,1490.9 L1533.6,1453.5 L1538.2,1444.2 L1542.0,1462.9 L1546.6,1476.9 L1550.4,1453.5 L1552.3,1406.8 L1555.1,1367.6 L1557.9,1367.6 L1560.7,1406.8 L1563.5,1462.9 L1566.3,1500.2 L1569.1,1490.9 L1571.9,1434.8 L1574.7,1413.3 L1578.4,1425.5 L1581.2,1462.9 L1584.0,1509.5 L1585.9,1524.5 L1588.7,1500.2 L1590.5,1449.8 L1594.3,1453.5 L1597.1,1469.4 L1599.9,1444.2 L1603.6,1430.2 L1606.4,1472.2 L1609.2,1493.7 L1612.0,1462.9 L1613.9,1416.2 L1616.7,1421.8 L1619.5,1461.0 L1622.3,1434.8 L1624.2,1397.5 L1627.0,1388.1 L1629.8,1401.2 L1632.6,1433.0 L1635.8,1416.2 L1638.2,1400.3 L1641.0,1416.2 L1643.8,1462.9 L1646.6,1496.5 L1649.4,1511.4 L1652.2,1490.9 L1655.0,1462.9 L1658.7,1449.8 L1662.5,1434.8 L1665.3,1406.8 L1668.1,1392.8 L1671.8,1392.8 L1675.5,1405.9 L1679.3,1397.5 L1682.1,1382.5 L1684.9,1388.1 L1686.8,1425.5 L1689.6,1459.1 L1691.4,1465.7 L1695.2,1453.5 L1698.9,1434.8 L1701.1,1433.9 L1703.6,1459.1 L1706.4,1463.8 L1710.1,1461.0 L1711.0,1434.8 L1712.0,1397.5 L1713.8,1375.1 L1716.1,1359.2"/>
</g>
<circle cx="1716.1" cy="1359.2" r="2.8" fill="#000" shape-rendering="auto"/>
<text transform="translate(511,1286.5) scale(1,1)" font-size="103">c</text>
<text transform="translate(564.9,1285.5) scale(1,0.97)" font-size="103">)</text>
<text transform="translate(431.2,1715.3) scale(1,1.035)" font-size="92" text-anchor="middle">0</text>
<text transform="translate(800.914,1715.3) scale(1,1.035)" font-size="92" text-anchor="middle">2</text>
<text transform="translate(1170.63,1715.3) scale(1,1.035)" font-size="92" text-anchor="middle">4</text>
<text transform="translate(1540.34,1715.3) scale(1,1.035)" font-size="92" text-anchor="middle">6</text>
<text transform="translate(830.3,1798) scale(1,1)" font-size="109" font-family="Liberation Serif, Times New Roman, serif">µ</text>
<text transform="translate(888.8,1825) scale(1,1.035)" font-size="70">0</text>
<text transform="translate(927.3,1798) scale(1,1.05)" font-size="103" font-style="italic">H</text>
<text transform="translate(1028.2,1797) scale(1,0.97)" font-size="103">(</text>
<text transform="translate(1063.6,1798) scale(1,1.045)" font-size="103">T</text>
<text transform="translate(1126.5,1797) scale(1,0.97)" font-size="103">)</text>
<text transform="translate(137.7,593.7) rotate(-90) scale(1,1)" font-size="105.6" font-family="Liberation Serif, Times New Roman, serif">Δ</text>
<text transform="translate(137.7,524.6) rotate(-90) scale(1,1.035)" font-size="104" font-style="italic">M</text>
<text transform="translate(136.7,413.6) rotate(-90) scale(0.93,0.98)" font-size="104">(</text>
<text transform="translate(137.7,379.3) rotate(-90) scale(1,1)" font-size="109" font-family="Liberation Serif, Times New Roman, serif">µ</text>
<text transform="translate(166.7,319.8) rotate(-90) scale(1,1.035)" font-size="70">B</text>
<text transform="translate(137.2,253.7) rotate(-90) scale(1,1)" font-size="104">/</text>
<text transform="translate(137.7,206.2) rotate(-90) scale(1,1.045)" font-size="104">RE</text>
<text transform="translate(136.7,58.4) rotate(-90) scale(0.88,0.98)" font-size="104">)</text>
<text transform="translate(190,931.7) rotate(-90) scale(0.9,1)" font-size="121" font-style="italic" font-family="Liberation Serif, Times New Roman, serif" stroke="#000" stroke-width="1.2">χ</text>
<text transform="translate(222.7,879.3) rotate(-90) scale(1,1)" font-size="80">ac</text>
<text transform="translate(103.2,1455.7) rotate(-90) scale(0.9,1)" font-size="121" font-style="italic" font-family="Liberation Serif, Times New Roman, serif" stroke="#000" stroke-width="1.2">χ</text>
<text transform="translate(134.7,1403.2) rotate(-90) scale(1,1)" font-size="80">ac</text>
<text transform="translate(111.4,1377.7) rotate(-90) scale(1,1.153)" font-size="98">&quot;</text>
<text transform="translate(1999,1067.9) rotate(-90) scale(1,1)" font-size="103" fill="#ff0000">d</text>
<text transform="translate(1998.6,1001.9) rotate(-90) scale(0.9,1)" font-size="107" fill="#ff0000" font-style="italic" font-family="Liberation Serif, Times New Roman, serif" stroke="#ff0000" stroke-width="1">χ</text>
<text transform="translate(2027.6,952) rotate(-90) scale(1,1)" font-size="68.5" fill="#ff0000">ac</text>
<text transform="translate(1999,861.9) rotate(-90) scale(1,1)" font-size="103" fill="#ff0000">/</text>
<text transform="translate(1999,814.1) rotate(-90) scale(1,1)" font-size="103" fill="#ff0000">d</text>
<text transform="translate(1999.6,755.5) rotate(-90) scale(1,1.055)" font-size="103" fill="#ff0000" font-style="italic">H</text>
</svg>
</body></html>
